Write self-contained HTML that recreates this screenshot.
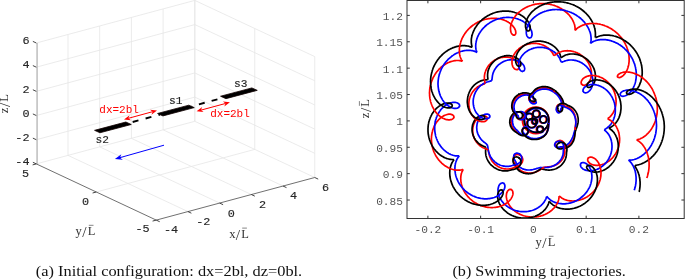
<!DOCTYPE html>
<html><head><meta charset="utf-8"><style>html,body{margin:0;padding:0;background:#fff;width:685px;height:280px;overflow:hidden}svg{display:block;will-change:transform}</style></head>
<body><svg width="685" height="280" viewBox="0 0 685 280">
<rect width="685" height="280" fill="#fff"/>
<line x1="68.00" y1="155.38" x2="68.00" y2="34.48" stroke="#e6e6e6" stroke-width="0.8" />
<line x1="99.70" y1="146.86" x2="99.70" y2="25.96" stroke="#e6e6e6" stroke-width="0.8" />
<line x1="131.40" y1="138.34" x2="131.40" y2="17.44" stroke="#e6e6e6" stroke-width="0.8" />
<line x1="163.10" y1="129.82" x2="163.10" y2="8.92" stroke="#e6e6e6" stroke-width="0.8" />
<line x1="194.80" y1="121.30" x2="194.80" y2="0.40" stroke="#e6e6e6" stroke-width="0.8" />
<line x1="36.30" y1="163.90" x2="194.80" y2="121.30" stroke="#e6e6e6" stroke-width="0.8" />
<line x1="36.30" y1="139.72" x2="194.80" y2="97.12" stroke="#e6e6e6" stroke-width="0.8" />
<line x1="36.30" y1="115.54" x2="194.80" y2="72.94" stroke="#e6e6e6" stroke-width="0.8" />
<line x1="36.30" y1="91.36" x2="194.80" y2="48.76" stroke="#e6e6e6" stroke-width="0.8" />
<line x1="36.30" y1="67.18" x2="194.80" y2="24.58" stroke="#e6e6e6" stroke-width="0.8" />
<line x1="36.30" y1="43.00" x2="194.80" y2="0.40" stroke="#e6e6e6" stroke-width="0.8" />
<line x1="314.75" y1="177.50" x2="314.75" y2="56.60" stroke="#e6e6e6" stroke-width="0.8" />
<line x1="254.78" y1="149.40" x2="254.78" y2="28.50" stroke="#e6e6e6" stroke-width="0.8" />
<line x1="194.80" y1="121.30" x2="194.80" y2="0.40" stroke="#e6e6e6" stroke-width="0.8" />
<line x1="314.75" y1="177.50" x2="194.80" y2="121.30" stroke="#e6e6e6" stroke-width="0.8" />
<line x1="314.75" y1="153.32" x2="194.80" y2="97.12" stroke="#e6e6e6" stroke-width="0.8" />
<line x1="314.75" y1="129.14" x2="194.80" y2="72.94" stroke="#e6e6e6" stroke-width="0.8" />
<line x1="314.75" y1="104.96" x2="194.80" y2="48.76" stroke="#e6e6e6" stroke-width="0.8" />
<line x1="314.75" y1="80.78" x2="194.80" y2="24.58" stroke="#e6e6e6" stroke-width="0.8" />
<line x1="314.75" y1="56.60" x2="194.80" y2="0.40" stroke="#e6e6e6" stroke-width="0.8" />
<line x1="187.95" y1="211.58" x2="68.00" y2="155.38" stroke="#e6e6e6" stroke-width="0.8" />
<line x1="219.65" y1="203.06" x2="99.70" y2="146.86" stroke="#e6e6e6" stroke-width="0.8" />
<line x1="251.35" y1="194.54" x2="131.40" y2="138.34" stroke="#e6e6e6" stroke-width="0.8" />
<line x1="283.05" y1="186.02" x2="163.10" y2="129.82" stroke="#e6e6e6" stroke-width="0.8" />
<line x1="96.28" y1="192.00" x2="254.78" y2="149.40" stroke="#e6e6e6" stroke-width="0.8" />
<line x1="37.10" y1="163.90" x2="37.10" y2="43.00" stroke="#c8c8c8" stroke-width="1.8" />
<line x1="36.30" y1="163.90" x2="156.25" y2="220.10" stroke="#606060" stroke-width="0.9" />
<line x1="156.25" y1="220.10" x2="314.75" y2="177.50" stroke="#606060" stroke-width="0.9" />
<line x1="36.30" y1="163.90" x2="32.86" y2="162.29" stroke="#303030" stroke-width="0.9" />
<line x1="36.30" y1="139.72" x2="32.86" y2="138.11" stroke="#303030" stroke-width="0.9" />
<line x1="36.30" y1="115.54" x2="32.86" y2="113.93" stroke="#303030" stroke-width="0.9" />
<line x1="36.30" y1="91.36" x2="32.86" y2="89.75" stroke="#303030" stroke-width="0.9" />
<line x1="36.30" y1="67.18" x2="32.86" y2="65.57" stroke="#303030" stroke-width="0.9" />
<line x1="36.30" y1="43.00" x2="32.86" y2="41.39" stroke="#303030" stroke-width="0.9" />
<line x1="156.25" y1="220.10" x2="152.58" y2="221.09" stroke="#303030" stroke-width="0.9" />
<line x1="96.28" y1="192.00" x2="92.61" y2="192.99" stroke="#303030" stroke-width="0.9" />
<line x1="36.30" y1="163.90" x2="32.63" y2="164.89" stroke="#303030" stroke-width="0.9" />
<line x1="156.25" y1="220.10" x2="159.69" y2="221.71" stroke="#303030" stroke-width="0.9" />
<line x1="187.95" y1="211.58" x2="191.39" y2="213.19" stroke="#303030" stroke-width="0.9" />
<line x1="219.65" y1="203.06" x2="223.09" y2="204.67" stroke="#303030" stroke-width="0.9" />
<line x1="251.35" y1="194.54" x2="254.79" y2="196.15" stroke="#303030" stroke-width="0.9" />
<line x1="283.05" y1="186.02" x2="286.49" y2="187.63" stroke="#303030" stroke-width="0.9" />
<line x1="314.75" y1="177.50" x2="318.19" y2="179.11" stroke="#303030" stroke-width="0.9" />
<text x="29.5" y="44.2" text-anchor="end" font-family="Liberation Mono" font-size="11.8" fill="#262626" stroke="#262626" stroke-width="0.15">6</text>
<text x="29.5" y="68.4" text-anchor="end" font-family="Liberation Mono" font-size="11.8" fill="#262626" stroke="#262626" stroke-width="0.15">4</text>
<text x="29.5" y="92.6" text-anchor="end" font-family="Liberation Mono" font-size="11.8" fill="#262626" stroke="#262626" stroke-width="0.15">2</text>
<text x="29.5" y="116.7" text-anchor="end" font-family="Liberation Mono" font-size="11.8" fill="#262626" stroke="#262626" stroke-width="0.15">0</text>
<text x="29.5" y="140.9" text-anchor="end" font-family="Liberation Mono" font-size="11.8" fill="#262626" stroke="#262626" stroke-width="0.15">-2</text>
<text x="29.5" y="165.1" text-anchor="end" font-family="Liberation Mono" font-size="11.8" fill="#262626" stroke="#262626" stroke-width="0.15">-4</text>
<text x="25.5" y="176.7" text-anchor="middle" font-family="Liberation Mono" font-size="11.8" fill="#262626" stroke="#262626" stroke-width="0.15">5</text>
<text x="85.5" y="205.2" text-anchor="middle" font-family="Liberation Mono" font-size="11.8" fill="#262626" stroke="#262626" stroke-width="0.15">0</text>
<text x="142.5" y="232.0" text-anchor="middle" font-family="Liberation Mono" font-size="11.8" fill="#262626" stroke="#262626" stroke-width="0.15">-5</text>
<text x="171.0" y="233.0" text-anchor="middle" font-family="Liberation Mono" font-size="11.8" fill="#262626" stroke="#262626" stroke-width="0.15">-4</text>
<text x="203.3" y="225.4" text-anchor="middle" font-family="Liberation Mono" font-size="11.8" fill="#262626" stroke="#262626" stroke-width="0.15">-2</text>
<text x="231.2" y="216.6" text-anchor="middle" font-family="Liberation Mono" font-size="11.8" fill="#262626" stroke="#262626" stroke-width="0.15">0</text>
<text x="262.6" y="208.3" text-anchor="middle" font-family="Liberation Mono" font-size="11.8" fill="#262626" stroke="#262626" stroke-width="0.15">2</text>
<text x="293.6" y="199.3" text-anchor="middle" font-family="Liberation Mono" font-size="11.8" fill="#262626" stroke="#262626" stroke-width="0.15">4</text>
<text x="325.6" y="190.6" text-anchor="middle" font-family="Liberation Mono" font-size="11.8" fill="#262626" stroke="#262626" stroke-width="0.15">6</text>
<g transform="translate(75.6 234.9)"><text y="0" font-family="Liberation Serif" font-size="12.5" fill="#333"><tspan x="0">y</tspan><tspan x="6.63" y="1.8" font-size="15.5">/</tspan><tspan x="12.26" y="0">L</tspan></text><line x1="13.2" y1="-9.6" x2="17.9" y2="-9.6" stroke="#333" stroke-width="0.6"/></g>
<g transform="translate(229.3 237.7)"><text y="0" font-family="Liberation Serif" font-size="12.5" fill="#333"><tspan x="0">x</tspan><tspan x="6.50" y="1.8" font-size="15.5">/</tspan><tspan x="12.01" y="0">L</tspan></text><line x1="12.9" y1="-9.6" x2="17.6" y2="-9.6" stroke="#333" stroke-width="0.6"/></g>
<g transform="translate(8.4 113.3) rotate(-90)"><text y="0" font-family="Liberation Serif" font-size="12.5" fill="#333"><tspan x="0">z</tspan><tspan x="6.29" y="1.8" font-size="15.5">/</tspan><tspan x="11.63" y="0">L</tspan></text><line x1="12.5" y1="-9.6" x2="17.2" y2="-9.6" stroke="#333" stroke-width="0.6"/></g>
<polygon points="157.55,113.48 188.85,105.17 194.25,107.62 162.95,115.92" fill="#000" stroke="#100000" stroke-width="0.8" stroke-linejoin="round"/>
<polygon points="94.55,130.33 125.85,122.03 131.25,124.47 99.95,132.78" fill="#000" stroke="#100000" stroke-width="0.8" stroke-linejoin="round"/>
<polygon points="220.55,96.23 251.85,87.92 257.25,90.37 225.95,98.67" fill="#000" stroke="#100000" stroke-width="0.8" stroke-linejoin="round"/>
<line x1="128.8" y1="123.0" x2="160.0" y2="114.6" stroke="#000" stroke-width="1.9" stroke-dasharray="6,7.4" stroke-dashoffset="9.4"/>
<line x1="191.8" y1="106.3" x2="223.0" y2="97.8" stroke="#000" stroke-width="1.9" stroke-dasharray="6,7.2" stroke-dashoffset="5.85"/>
<line x1="128.39" y1="118.30" x2="152.61" y2="111.70" stroke="#ff0000" stroke-width="1.0"/>
<polygon points="157.00,110.50 151.41,114.72 152.61,111.70 150.04,109.70" fill="#ff0000"/>
<polygon points="124.00,119.50 130.96,120.30 128.39,118.30 129.59,115.28" fill="#ff0000"/>
<line x1="200.99" y1="110.11" x2="225.51" y2="103.49" stroke="#ff0000" stroke-width="1.0"/>
<polygon points="229.90,102.30 224.30,106.51 225.51,103.49 222.95,101.49" fill="#ff0000"/>
<polygon points="196.60,111.30 203.55,112.11 200.99,110.11 202.20,107.09" fill="#ff0000"/>
<line x1="164.00" y1="145.20" x2="119.95" y2="157.67" stroke="#0000ff" stroke-width="1.0"/>
<polygon points="114.90,159.10 121.35,154.36 119.95,157.67 122.88,159.75" fill="#0000ff"/>
<text x="119.1" y="113.2" text-anchor="middle" font-family="Liberation Mono" font-size="11" fill="#ff0000">dx=2bl</text>
<text x="230.0" y="117.0" text-anchor="middle" font-family="Liberation Mono" font-size="11" fill="#ff0000">dx=2bl</text>
<text x="102.3" y="142.7" text-anchor="middle" font-family="Liberation Mono" font-size="11.2" fill="#262626" stroke="#262626" stroke-width="0.15">s2</text>
<text x="175.7" y="103.9" text-anchor="middle" font-family="Liberation Mono" font-size="11.2" fill="#262626" stroke="#262626" stroke-width="0.15">s1</text>
<text x="240.8" y="86.7" text-anchor="middle" font-family="Liberation Mono" font-size="11.2" fill="#262626" stroke="#262626" stroke-width="0.15">s3</text>
<defs><clipPath id="rclip"><rect x="407" y="0" width="278" height="218.5"/></clipPath></defs><g clip-path="url(#rclip)">
<circle cx="535.7" cy="120.3" r="13.3" fill="none" stroke="#ff0000" stroke-width="1.7"/><ellipse cx="535.7" cy="114.0" rx="3.5" ry="3.6" fill="none" stroke="#ff0000" stroke-width="1.6"/><ellipse cx="542.7" cy="119.6" rx="3.5" ry="3.6" fill="none" stroke="#ff0000" stroke-width="1.6"/><ellipse cx="539.5" cy="129.5" rx="3.2" ry="3.1" fill="none" stroke="#ff0000" stroke-width="1.6"/><ellipse cx="528.7" cy="116.7" rx="3.5" ry="3.2" fill="none" stroke="#ff0000" stroke-width="1.6"/><ellipse cx="531.1" cy="123.3" rx="4.5" ry="4.5" fill="none" stroke="#ff0000" stroke-width="1.6"/><ellipse cx="534.1" cy="121.6" rx="2.6" ry="2.6" fill="none" stroke="#ff0000" stroke-width="1.6"/>
<circle cx="536.7" cy="120.4" r="12.0" fill="none" stroke="#0000ff" stroke-width="1.7"/><ellipse cx="536.7" cy="114.1" rx="3.5" ry="3.6" fill="none" stroke="#0000ff" stroke-width="1.6"/><ellipse cx="543.7" cy="119.7" rx="3.5" ry="3.6" fill="none" stroke="#0000ff" stroke-width="1.6"/><ellipse cx="540.5" cy="129.6" rx="3.2" ry="3.1" fill="none" stroke="#0000ff" stroke-width="1.6"/><ellipse cx="529.7" cy="116.8" rx="3.5" ry="3.2" fill="none" stroke="#0000ff" stroke-width="1.6"/><ellipse cx="532.1" cy="123.4" rx="4.5" ry="4.5" fill="none" stroke="#0000ff" stroke-width="1.6"/><ellipse cx="535.1" cy="121.7" rx="2.6" ry="2.6" fill="none" stroke="#0000ff" stroke-width="1.6"/>
<circle cx="536.4" cy="120.0" r="12.4" fill="none" stroke="#000" stroke-width="1.7"/><ellipse cx="536.4" cy="113.7" rx="3.5" ry="3.6" fill="none" stroke="#000" stroke-width="1.6"/><ellipse cx="543.4" cy="119.3" rx="3.5" ry="3.6" fill="none" stroke="#000" stroke-width="1.6"/><ellipse cx="540.2" cy="129.2" rx="3.2" ry="3.1" fill="none" stroke="#000" stroke-width="1.6"/><ellipse cx="529.4" cy="116.4" rx="3.5" ry="3.2" fill="none" stroke="#000" stroke-width="1.6"/><ellipse cx="531.8" cy="123.0" rx="4.5" ry="4.5" fill="none" stroke="#000" stroke-width="1.6"/><ellipse cx="534.8" cy="121.3" rx="2.6" ry="2.6" fill="none" stroke="#000" stroke-width="1.6"/>
<path d="M548.6,123.6l-0.1 .8 0 .8 -.1 .8 0 .8 -.1 .8 -.1 .8 -.2 .8 -.2 .7 -.2 .8 -.3 .7 -.3 .8 -.4 .7 -.4 .7 -.4 .6 -.6 .6 -.5 .6 -.6 .5 -.7 .5 -.6 .4 -.7 .4 -.7 .4 -.8 .3 -.7 .3 -.8 .3 -.7 .2 -.8 .2 -.8 .1 -.8 .1 -.8 0 -.8 0 -.8 0 -.8 0 -.8 -.1 -.8 -.2 -.7 -.2 -.8 -.3 -.7 -.3 -.7 -.3 -.7 -.4 -.7 -.4 -.7 -.5 -.6 -.5 -.6 -.5 -.6 -.6 -.5 -.6 -.5 -.6 -.4 -.7 -.4 -.7 -.3 -.7 0 -.8 .1 -.8 .2 -.7 .4 -.7 .7 -.5 .7 -.4 .8 -.1 .8 -.1 .7 .3 .6 .6 .5 .6 .3 .7 .2 .8 0 .8 -.2 .8 -.2 .7 -.5 .7 -.5 .6 -.6 .5 -.7 .4 -.8 .2 -.8 .2 -.8 0 -.7 -.1 -.8 -.2 -.8 -.2 -.7 -.4 -.7 -.4 -.6 -.4 -.7 -.5 -.6 -.5 -.6 -.5 -.6 -.6 -.6 -.5 -.2 -.1 -.4 -.3 -.6 -.5 -.5 -.6 -.5 -.6 -.5 -.6 -.4 -.7 -.4 -.7 -.4 -.7 -.2 -.8 -.3 -.7 -.1 -.8 -.2 -.8 0 -.8" fill="none" stroke="#ff0000" stroke-width="1.7" stroke-linejoin="round" stroke-linecap="butt"/>
<path d="M548.9,123.0l-0.1 .8 0 .8 -.1 .8 0 .8 -.1 .8 -.1 .8 -.1 .7 -.2 .8 -.3 .8 -.3 .7 -.3 .7 -.4 .7 -.4 .7 -.4 .7 -.5 .6 -.6 .6 -.6 .5 -.6 .5 -.7 .4 -.7 .4 -.7 .4 -.7 .3 -.7 .3 -.8 .2 -.8 .3 -.7 .1 -.8 .2 -.8 .1 -.8 0 -.8 0 -.8 0 -.8 0 -.8 -.1 -.8 -.1 -.7 -.2 -.8 -.3 -.7 -.3 -.7 -.4 -.7 -.4 -.7 -.4 -.7 -.4 -.6 -.5 -.6 -.5 -.6 -.6 -.5 -.6 -.5 -.6 -.5 -.6 -.3 -.7 -.3 -.8 -.1 -.7 0 -.8 .3 -.8 .3 -.7 .6 -.5 .7 -.4 .8 -.2 .8 -.1 .7 .2 .7 .5 .5 .6 .4 .7 .2 .8 0 .8 -.1 .8 -.3 .7 -.3 .7 -.5 .6 -.6 .5 -.7 .5 -.7 .3 -.8 .2 -.8 0 -.8 0 -.8 -.1 -.7 -.3 -.8 -.3 -.6 -.5 -.6 -.5 -.6 -.6 -.5 -.6 -.5 -.6 -.6 -.6 -.5 -.6 -.4 -.3 -.1 -.1 -.6 -.5 -.5 -.6 -.5 -.6 -.5 -.7 -.4 -.7 -.4 -.7 -.3 -.7 -.2 -.8 -.2 -.7 -.2 -.8 -.1 -.8 0 -.8" fill="none" stroke="#0000ff" stroke-width="1.7" stroke-linejoin="round" stroke-linecap="butt"/>
<path d="M548.4,124.0l-0.1 .8 0 .8 -.1 .8 0 .8 -.1 .8 -.1 .8 -.2 .8 -.2 .7 -.2 .8 -.3 .7 -.3 .8 -.4 .7 -.4 .7 -.4 .6 -.6 .6 -.5 .6 -.6 .5 -.7 .5 -.6 .4 -.7 .4 -.7 .4 -.8 .3 -.7 .3 -.8 .3 -.7 .2 -.8 .2 -.8 .1 -.8 .1 -.8 0 -.8 0 -.8 0 -.8 0 -.8 -.1 -.8 -.2 -.7 -.2 -.8 -.3 -.7 -.3 -.7 -.3 -.7 -.4 -.7 -.4 -.7 -.5 -.6 -.5 -.6 -.5 -.6 -.6 -.5 -.6 -.5 -.6 -.4 -.7 -.4 -.7 -.3 -.7 0 -.8 .1 -.8 .2 -.8 .4 -.6 .7 -.5 .7 -.4 .8 -.1 .8 -.1 .7 .3 .6 .6 .5 .6 .3 .7 .2 .8 0 .8 -.2 .8 -.2 .7 -.5 .7 -.5 .6 -.6 .5 -.7 .4 -.8 .2 -.8 .2 -.8 0 -.7 -.1 -.8 -.2 -.8 -.2 -.7 -.4 -.7 -.3 -.7 -.5 -.6 -.4 -.7 -.5 -.7 -.4 -.6 -.5 -.7 -.4 -.6 -.5 -.7 -.5 .2 .2 -.5 -.5 -.6 -.5 -.5 -.6 -.5 -.7 -.5 -.6 -.4 -.7 -.3 -.7 -.4 -.7 -.2 -.8 -.2 -.8 -.2 -.8 -.1 -.7 0 -.8" fill="none" stroke="#000" stroke-width="1.7" stroke-linejoin="round" stroke-linecap="butt"/>
<path d="M511.2,123.3l-0.1 -.8 0 -.8 0 -.8 .1 -.8 .1 -.8 .2 -.8 .3 -.7 .3 -.7 .4 -.7 .5 -.7 .4 -.6 .6 -.6 .6 -.6 .6 -.4 .7 -.5 .7 -.3 .8 -.3 .7 -.2 .8 -.1 .8 0 .8 .1 .8 .3 .7 .3 .6 .5 .5 .6 .4 .7 .1 .8 -.1 .4 .4 -.7 .4 .5 -.2 .8 -.3 .7 -.5 .7 -.5 .6" fill="none" stroke="#ff0000" stroke-width="1.7" stroke-linejoin="round" stroke-linecap="butt"/>
<path d="M512.4,122.1l0 -.7 0 -.8 .1 -.8 .1 -.8 .2 -.8 .3 -.8 .3 -.7 .3 -.7 .5 -.7 .5 -.6 .5 -.6 .6 -.6 .6 -.5 .7 -.4 .7 -.4 .7 -.2 .8 -.2 .8 -.2 .8 0 .8 .1 .7 .2 .8 .3 .7 .4 .5 .6 .5 .6 .2 .8 .1 .8 -.1 .3 .5 -.6 .2 .7 -.3 .8 -.3 .7 -.5 .7 -.5 .5" fill="none" stroke="#0000ff" stroke-width="1.7" stroke-linejoin="round" stroke-linecap="butt"/>
<path d="M509.8,123.0l0 -.8 0 -.8 0 -.8 .1 -.7 .2 -.8 .2 -.8 .2 -.7 .4 -.8 .4 -.7 .4 -.6 .5 -.7 .5 -.6 .6 -.5 .6 -.5 .7 -.4 .7 -.4 .7 -.3 .8 -.2 .8 -.1 .8 0 .8 0 .8 .2 .7 .3 .7 .5 .5 .5 .4 .7 .2 .8 -.1 .5 .3 -.7 .4 .3 -.1 .8 -.4 .7 -.4 .7 -.6 .5" fill="none" stroke="#000" stroke-width="1.7" stroke-linejoin="round" stroke-linecap="butt"/>
<path d="M523.2,117.9l-0.5 .6 -.7 .5 -.7 .4 -.8 .2 -.8 0 -.7 -.2 -.7 -.4 -.5 -.6 -.4 -.7 -.3 -.8 -.2 -.8 -.2 -.7 -.7 -.4 -.5 -.6 -.6 -.6 -.5 -.6 -.4 -.7 -.4 -.7 -.3 -.7 -.3 -.8 -.2 -.7 -.2 -.8 -.1 -.8 -.1 -.8 0 -.8 .1 -.8 .1 -.8 .2 -.8 .2 -.7 .2 -.8 .3 -.7 .4 -.8 .4 -.7 .4 -.6 .5 -.7 .5 -.6 .5 -.6 .6 -.5 .6 -.5 .7 -.5 .6 -.4 .7 -.4" fill="none" stroke="#ff0000" stroke-width="1.7" stroke-linejoin="round" stroke-linecap="butt"/>
<path d="M524.6,118.1l-0.6 .5 -.6 .5 -.7 .4 -.8 .2 -.8 0 -.7 -.2 -.7 -.4 -.6 -.5 -.4 -.7 -.2 -.8 -.2 -.7 -.2 -.8 -.6 -.5 -.6 -.5 -.5 -.6 -.5 -.6 -.4 -.6 -.4 -.7 -.3 -.8 -.3 -.7 -.2 -.8 -.2 -.7 -.1 -.8 0 -.8 0 -.8 0 -.8 .2 -.8 .1 -.8 .3 -.7 .2 -.8 .3 -.7 .4 -.7 .4 -.7 .5 -.6 .4 -.6 .6 -.6 .5 -.6 .6 -.5 .7 -.5 .6 -.4 .7 -.4 .7 -.4" fill="none" stroke="#0000ff" stroke-width="1.7" stroke-linejoin="round" stroke-linecap="butt"/>
<path d="M522.1,117.2l-0.6 .6 -.6 .4 -.8 .4 -.7 .1 -.8 0 -.8 -.2 -.6 -.5 -.5 -.6 -.4 -.7 -.2 -.7 -.1 -.8 -.2 -.7 -.6 -.6 -.6 -.5 -.5 -.6 -.4 -.7 -.5 -.6 -.3 -.7 -.3 -.8 -.3 -.7 -.2 -.8 -.2 -.7 -.1 -.8 0 -.8 0 -.8 .1 -.8 .1 -.8 .1 -.7 .2 -.8 .3 -.7 .2 -.8 .4 -.7 .4 -.7 .4 -.7 .4 -.6 .5 -.6 .5 -.6 .6 -.6 .6 -.5 .6 -.5 .7 -.4 .6 -.4 .7 -.4" fill="none" stroke="#000" stroke-width="1.7" stroke-linejoin="round" stroke-linecap="butt"/>
<path d="M518.8,95.9l0.6 -.4 .7 -.3 .8 -.3 .7 -.3 .8 -.2 .7 -.1 .8 -.1 .8 -.1 .7 0 .8 .1 .8 .1 .7 .1 .8 .2 .7 .3 .7 .3 .7 .4 .7 .4 .6 .5 .5 .6 .5 .6 .3 .7 .3 .7 .2 .6 .8 .3 .6 .4 .4 .6 -.2 .7 -.6 .5 -.7 .2 -.8 .1 -.8 -.1 -.7 -.2" fill="none" stroke="#ff0000" stroke-width="1.7" stroke-linejoin="round" stroke-linecap="butt"/>
<path d="M520.5,96.5l0.7 -.4 .8 -.3 .7 -.3 .8 -.2 .7 -.1 .8 -.1 .8 -.1 .8 0 .8 .1 .8 .1 .8 .1 .7 .3 .8 .3 .7 .3 .7 .4 .6 .5 .6 .5 .5 .6 .4 .7 .4 .7 .2 .8 0 .7 .7 .2 .7 .5 .3 .7 -.3 .7 -.7 .4 -.8 .2 -.7 0 -.8 -.1 -.8 -.3" fill="none" stroke="#0000ff" stroke-width="1.7" stroke-linejoin="round" stroke-linecap="butt"/>
<path d="M518.5,94.5l0.7 -.4 .8 -.3 .7 -.3 .8 -.2 .7 -.2 .8 -.2 .8 -.1 .8 0 .8 0 .8 0 .8 .2 .7 .1 .8 .2 .7 .3 .8 .3 .6 .4 .7 .5 .6 .5 .6 .5 .5 .7 .4 .6 .3 .8 .2 .6 .8 .3 .6 .4 .4 .7 -.1 .7 -.7 .5 -.7 .2 -.8 .1 -.8 -.1 -.8 -.3" fill="none" stroke="#000" stroke-width="1.7" stroke-linejoin="round" stroke-linecap="butt"/>
<path d="M532.3,102.4l-0.7 -.2 -.7 -.3 -.7 -.5 -.5 -.6 -.5 -.6 -.2 -.8 -.1 -.7 .1 -.8 .2 -.8 .4 -.7 .5 -.6 .5 -.6 .6 -.5 .7 -.4 .5 -.5 .5 -.7 .4 -.6 .6 -.6 .5 -.6 .6 -.5 .6 -.5 .7 -.4 .7 -.4 .7 -.4 .7 -.3 .8 -.3 .7 -.2 .8 -.2 .8 -.1 .7 -.1 .8 -.1 .8 0 .8 .1 .8 0 .8 .1 .8 .2 .7 .1 .8 .3 .8 .2 .7 .3 .7 .3 .7 .3 .7 .4 .7 .4 .7 .4 .6 .4" fill="none" stroke="#ff0000" stroke-width="1.7" stroke-linejoin="round" stroke-linecap="butt"/>
<path d="M532.9,103.7l-0.8 -.3 -.7 -.3 -.6 -.5 -.5 -.6 -.5 -.6 -.2 -.8 -.1 -.7 0 -.8 .3 -.8 .3 -.7 .5 -.6 .5 -.6 .6 -.5 .7 -.4 .6 -.4 .4 -.7 .5 -.7 .5 -.5 .5 -.6 .6 -.5 .6 -.5 .7 -.5 .6 -.4 .7 -.3 .8 -.3 .7 -.3 .8 -.2 .7 -.2 .8 -.2 .8 -.1 .7 0 .8 0 .8 0 .8 0 .8 .1 .7 .2 .8 .1 .8 .2 .7 .3 .7 .3 .8 .3 .7 .3 .7 .4 .6 .4 .7 .4 .6 .4 .7 .5" fill="none" stroke="#0000ff" stroke-width="1.7" stroke-linejoin="round" stroke-linecap="butt"/>
<path d="M532.5,101.2l-0.8 -.2 -.7 -.3 -.6 -.5 -.6 -.6 -.4 -.7 -.2 -.7 -.1 -.8 .1 -.8 .2 -.8 .4 -.7 .4 -.6 .6 -.6 .6 -.5 .6 -.5 .7 -.4 .4 -.7 .5 -.6 .5 -.6 .6 -.6 .6 -.5 .6 -.5 .7 -.4 .7 -.4 .7 -.4 .7 -.3 .8 -.2 .7 -.3 .8 -.1 .8 -.2 .8 -.1 .8 0 .8 0 .8 0 .8 .1 .7 .1 .8 .1 .8 .2 .8 .2 .7 .3 .8 .3 .7 .3 .7 .4 .7 .4 .7 .4 .6 .4 .7 .5 .6 .4 .6 .6" fill="none" stroke="#000" stroke-width="1.7" stroke-linejoin="round" stroke-linecap="butt"/>
<path d="M553.6,91.0l0.7 .4 .6 .5 .6 .5 .6 .5 .6 .5 .6 .5 .5 .6 .6 .6 .5 .6 .5 .6 .4 .6 .5 .7 .4 .7 .4 .6 .3 .8 .3 .7 .3 .7 .2 .8 .1 .8 .1 .7 .1 .8 -.1 .8 -.1 .8 -.2 .8 -.2 .7 -.2 .7 0 .8 -.1 .8 -.2 .8 -.4 .7 -.5 .5 -.8 .3 -.7 0 -.8 -.3 -.6 -.5 -.4 -.6 -.4 -.7 -.2 -.8" fill="none" stroke="#ff0000" stroke-width="1.7" stroke-linejoin="round" stroke-linecap="butt"/>
<path d="M554.5,92.6l0.7 .5 .6 .5 .5 .5 .6 .6 .5 .5 .5 .6 .5 .6 .5 .7 .4 .6 .5 .7 .3 .7 .4 .7 .3 .7 .3 .7 .2 .8 .2 .7 .2 .8 .1 .8 0 .7 0 .8 -.1 .8 -.2 .8 -.2 .7 -.4 .7 -.3 .7 0 .8 -.1 .8 -.3 .7 -.4 .6 -.7 .4 -.8 0 -.7 -.4 -.5 -.5 -.4 -.7 -.2 -.8 -.1 -.7" fill="none" stroke="#0000ff" stroke-width="1.7" stroke-linejoin="round" stroke-linecap="butt"/>
<path d="M555.2,90.8l0.7 .5 .5 .6 .6 .5 .6 .5 .5 .6 .6 .6 .5 .6 .5 .6 .5 .6 .5 .6 .4 .6 .4 .7 .4 .7 .4 .7 .3 .7 .3 .7 .3 .8 .1 .7 .2 .8 .1 .8 0 .8 -.1 .8 -.1 .7 -.3 .8 -.3 .7 -.2 .7 0 .8 -.2 .8 -.3 .7 -.4 .7 -.6 .4 -.8 .2 -.8 -.2 -.6 -.5 -.5 -.6 -.4 -.7 -.2 -.7 -.1 -.8" fill="none" stroke="#000" stroke-width="1.7" stroke-linejoin="round" stroke-linecap="butt"/>
<path d="M556.8,109.7l-0.2 -.7 0 -.8 0 -.8 .3 -.8 .3 -.7 .5 -.6 .7 -.5 .7 -.3 .7 -.2 .8 0 .8 .1 .8 .2 .7 .2 .8 .4 .6 .4 .7 .4 .8 .2 .7 .2 .8 .2 .7 .4 .7 .3 .7 .5 .6 .4 .6 .5 .6 .5 .6 .6 .5 .6 .5 .6 .4 .7 .4 .7 .4 .7 .3 .7 .4 .7 .2 .8 .2 .7 .2 .8 .2 .8 .1 .7 .1 .8 .1 .8 0 .8 0 .8 0 .8 -.1 .8 0 .8 -.1 .8 -.1 .7 -.1 .8 -.1 .8 0 .8" fill="none" stroke="#ff0000" stroke-width="1.7" stroke-linejoin="round" stroke-linecap="butt"/>
<path d="M556.5,110.4l-0.2 -.8 .1 -.8 .1 -.8 .3 -.7 .5 -.6 .6 -.6 .6 -.4 .8 -.3 .7 -.1 .8 0 .8 .2 .8 .2 .7 .3 .7 .3 .7 .5 .6 .4 .7 .3 .8 .2 .7 .3 .7 .4 .7 .4 .7 .4 .6 .5 .6 .5 .6 .5 .5 .6 .6 .6 .4 .6 .5 .7 .4 .6 .4 .7 .3 .8 .3 .7 .3 .7 .2 .8 .2 .7 .2 .8 .1 .8 .1 .8 .1 .8 .1 .7 0 .8 -.1 .8 0 .8 -.1 .8 -.1 .8 -.1 .8 -.1 .7 -.2 .8 -.2 .8 -.2 .8 -.2 .7" fill="none" stroke="#0000ff" stroke-width="1.7" stroke-linejoin="round" stroke-linecap="butt"/>
<path d="M557.8,109.1l-0.1 -.8 0 -.8 .1 -.8 .3 -.7 .3 -.7 .6 -.6 .6 -.5 .7 -.4 .7 -.3 .8 -.1 .8 -.1 .8 .1 .8 .2 .7 .2 .8 .3 .7 .4 .7 .4 .6 .5 .8 .2 .7 .3 .7 .3 .7 .4 .7 .4 .7 .4 .6 .5 .6 .5 .6 .6 .5 .6 .5 .6 .5 .6 .4 .7 .5 .7 .3 .7 .4 .7 .3 .7 .2 .8 .2 .7 .2 .8 .2 .8 .1 .8 .1 .8 0 .8 0 .8 0 .8 -.1 .8 -.1 .7 -.2 .8 -.2 .8 -.2 .8 -.2 .7 -.2 .8 -.3 .7 -.3 .8 -.3 .7 -.3 .8 -.2 .7" fill="none" stroke="#000" stroke-width="1.7" stroke-linejoin="round" stroke-linecap="butt"/>
<path d="M575.3,127.2l-0.1 .8 0 .8 -.1 .8 0 .8 -.1 .8 0 .8 -.1 .8 -.1 .8 -.1 .8 -.1 .8 -.1 .7 -.2 .8 -.2 .8 -.3 .7 -.3 .8 -.3 .7 -.4 .7 -.3 .7 -.5 .7 -.4 .6 -.5 .6 -.6 .6 -.5 .6 -.6 .5 -.6 .5 -.7 .5 -.7 .4 -.7 .3 -.7 .3 -.8 .3 -.8 .2 -.8 .1 -.7 .1 -.8 0 -.8 .3 -.8 .2 -.7 .1 -.8 0 -.8 -.1 -.8 -.2 -.7 -.3 -.6 -.5 -.5 -.6 -.3 -.8 -.1 -.8 .1 -.7 .2 -.8 .4 -.7 .5 -.6 .6 -.5" fill="none" stroke="#ff0000" stroke-width="1.7" stroke-linejoin="round" stroke-linecap="butt"/>
<path d="M574.8,130.1l-0.2 .8 -.2 .7 -.2 .8 -.3 .8 -.2 .7 -.2 .8 -.3 .8 -.3 .7 -.2 .8 -.3 .7 -.4 .7 -.3 .7 -.4 .8 -.4 .6 -.4 .7 -.5 .7 -.5 .6 -.5 .6 -.6 .5 -.6 .6 -.6 .5 -.7 .4 -.7 .4 -.7 .4 -.7 .3 -.8 .3 -.8 .2 -.7 .1 -.8 0 -.8 0 -.8 .2 -.8 .2 -.8 .1 -.8 0 -.8 -.1 -.7 -.3 -.6 -.5 -.4 -.7 -.2 -.8 .2 -.8 .3 -.7 .4 -.7 .6 -.5 .7 -.4" fill="none" stroke="#0000ff" stroke-width="1.7" stroke-linejoin="round" stroke-linecap="butt"/>
<path d="M575.7,130.0l-0.2 .8 -.2 .8 -.1 .7 -.1 .8 -.1 .8 -.1 .8 -.1 .8 -.1 .7 -.1 .8 -.2 .8 -.1 .7 -.3 .8 -.2 .8 -.3 .7 -.3 .7 -.4 .7 -.4 .7 -.4 .6 -.5 .7 -.5 .6 -.5 .5 -.6 .5 -.6 .5 -.7 .5 -.7 .4 -.7 .3 -.7 .3 -.7 .3 -.8 .1 -.8 .1 -.8 .1 -.7 .1 -.8 .2 -.8 .2 -.7 .1 -.8 -.1 -.8 -.1 -.7 -.3 -.7 -.5 -.4 -.6 -.3 -.8 0 -.8 .2 -.7 .4 -.7 .5 -.6 .6 -.5 .7 -.5" fill="none" stroke="#000" stroke-width="1.7" stroke-linejoin="round" stroke-linecap="butt"/>
<path d="M556.4,142.0l0.6 -.6 .7 -.4 .7 -.3 .8 -.2 .8 -.1 .8 .1 .7 .2 .7 .4 .7 .5 .5 .5 .5 .7 .3 .7 .3 .8 .2 .7 .1 .8 0 .8 0 .8 -.1 .8 -.1 .8 .1 .8 .1 .8 0 .8 0 .8 -.1 .8 -.1 .8 -.2 .7 -.2 .8 -.2 .8 -.3 .7 -.4 .7 -.3 .7 -.5 .7 -.4 .7 -.5 .6 -.5 .7 -.5 .5 -.6 .6 -.6 .5 -.6 .6 -.6 .4 -.7 .5 -.6 .4 -.7 .4 -.8 .3 -.7 .4 -.7 .3 -.8 .2 -.8 .2 -.7 .2 -.8 .2 -.8 .1 -.8 .1 -.8 .1 -.8 0 -.8 .1 -.8 .1 -.8 .1 -.8 .1 -.7 .2" fill="none" stroke="#ff0000" stroke-width="1.7" stroke-linejoin="round" stroke-linecap="butt"/>
<path d="M556.1,142.2l0.7 -.4 .7 -.3 .8 -.2 .8 -.1 .8 .1 .7 .2 .7 .4 .7 .5 .5 .6 .4 .7 .3 .7 .3 .7 .1 .8 .1 .8 0 .8 0 .8 -.1 .8 -.2 .8 -.1 .7 0 .8 0 .8 -.1 .8 -.1 .8 -.1 .8 -.2 .8 -.3 .7 -.3 .8 -.3 .7 -.3 .7 -.4 .7 -.4 .7 -.5 .6 -.5 .6 -.5 .6 -.6 .6 -.5 .6 -.6 .5 -.6 .5 -.7 .5 -.6 .4 -.7 .4 -.7 .4 -.7 .3 -.8 .4 -.7 .2 -.7 .3 -.8 .2 -.8 .2 -.8 .2 -.7 .1 -.8 .1 -.8 .1 -.8 0 -.8 0 -.8 .1 -.8 0 -.8 0 -.8 0 -.8 0 -.8 0" fill="none" stroke="#0000ff" stroke-width="1.7" stroke-linejoin="round" stroke-linecap="butt"/>
<path d="M558.3,143.3l0.7 -.4 .7 -.3 .8 -.2 .8 -.1 .7 0 .8 .2 .7 .3 .7 .4 .6 .5 .6 .6 .4 .6 .4 .7 .2 .8 .3 .7 .1 .8 .1 .8 0 .8 0 .8 -.1 .8 -.1 .7 -.2 .8 0 .8 -.1 .8 0 .8 -.1 .7 -.2 .8 -.1 .8 -.3 .7 -.2 .8 -.3 .7 -.3 .7 -.4 .7 -.4 .7 -.4 .7 -.5 .6 -.5 .6 -.5 .6 -.5 .6 -.6 .6 -.6 .5 -.6 .5 -.6 .5 -.7 .4 -.6 .4 -.7 .4 -.7 .4 -.7 .3 -.8 .3 -.7 .2 -.8 .3 -.7 .1 -.8 .2 -.8 .1 -.8 .1 -.8 .1 -.7 0 -.8 0 -.8 -.1 -.8 -.1 -.8 -.1 -.8 -.1 -.7 -.2 -.8 -.1 -.8 -.2 -.8 -.1 -.7 0" fill="none" stroke="#000" stroke-width="1.7" stroke-linejoin="round" stroke-linecap="butt"/>
<path d="M544.2,167.4l-0.7 .3 -.7 .3 -.7 .4 -.7 .5 -.6 .4 -.7 .4 -.7 .5 -.6 .4 -.7 .3 -.7 .4 -.8 .3 -.7 .3 -.8 .3 -.7 .2 -.8 .2 -.8 .2 -.7 .1 -.8 .1 -.8 0 -.8 .1 -.8 0 -.8 -.1 -.8 -.1 -.8 -.1 -.7 -.2 -.8 -.2 -.8 -.2 -.7 -.3 -.7 -.3 -.8 -.4 -.6 -.3 -.7 -.5 -.7 -.4 -.6 -.5 -.6 -.5 -.6 -.6 -.5 -.6 -.5 -.6 -.4 -.6 -.4 -.7 -.4 -.7 -.3 -.7 -.5 -.7 -.5 -.6 -.4 -.7 -.3 -.7 -.3 -.8 -.2 -.7 -.1 -.8 -.1 -.8 .1 -.8 .2 -.8 .3 -.7 .5 -.6 .6 -.6 .7 -.4 .7 -.2 .8 -.1 .8 0 .8 .1 .7 .3 .7 .3" fill="none" stroke="#ff0000" stroke-width="1.7" stroke-linejoin="round" stroke-linecap="butt"/>
<path d="M540.9,167.6l-0.8 .1 -.8 .1 -.8 .2 -.8 .2 -.7 .2 -.8 .3 -.7 .2 -.8 .2 -.8 .2 -.7 .2 -.8 .2 -.8 .1 -.8 .1 -.8 .1 -.8 0 -.8 0 -.8 0 -.8 -.1 -.8 -.1 -.7 -.2 -.8 -.2 -.8 -.2 -.7 -.3 -.7 -.3 -.8 -.4 -.6 -.4 -.7 -.4 -.7 -.5 -.6 -.5 -.5 -.6 -.6 -.5 -.5 -.7 -.5 -.6 -.4 -.7 -.3 -.7 -.3 -.7 -.4 -.7 -.4 -.7 -.4 -.7 -.4 -.7 -.2 -.8 -.2 -.7 -.1 -.8 .1 -.8 .1 -.8 .4 -.7 .5 -.6 .7 -.4 .8 -.3 .8 0 .7 .1 .8 .2 .7 .3 .7 .5" fill="none" stroke="#0000ff" stroke-width="1.7" stroke-linejoin="round" stroke-linecap="butt"/>
<path d="M541.5,169.0l-0.7 .1 -.8 .3 -.7 .4 -.6 .4 -.7 .4 -.7 .5 -.7 .4 -.6 .3 -.8 .4 -.7 .3 -.7 .3 -.8 .2 -.7 .3 -.8 .1 -.8 .2 -.8 .1 -.8 0 -.8 .1 -.7 -.1 -.8 0 -.8 -.1 -.8 -.1 -.8 -.2 -.7 -.2 -.8 -.3 -.7 -.3 -.7 -.3 -.7 -.4 -.7 -.4 -.7 -.4 -.6 -.5 -.6 -.5 -.6 -.6 -.5 -.6 -.5 -.6 -.4 -.6 -.4 -.7 -.4 -.7 -.4 -.7 -.4 -.6 -.5 -.7 -.4 -.7 -.3 -.7 -.2 -.8 -.2 -.8 0 -.7 0 -.8 .3 -.8 .3 -.7 .6 -.6 .6 -.4 .8 -.2 .8 -.1 .8 .1 .7 .2 .7 .4 .6 .5" fill="none" stroke="#000" stroke-width="1.7" stroke-linejoin="round" stroke-linecap="butt"/>
<path d="M519.3,154.8l0.7 .3 .7 .5 .6 .5 .5 .6 .4 .7 .3 .8 .2 .7 .1 .8 -.1 .8 -.2 .8 -.2 .8 -.4 .7 -.5 .6 -.5 .6 -.6 .6 -.6 .5 -.7 .4 -.7 .4 -.7 .3 -.7 .3 -.8 .3 -.7 .2 -.8 .3 -.7 .3 -.7 .3 -.8 .3 -.7 .2 -.8 .2 -.8 .2 -.8 .1 -.8 .1 -.8 0 -.8 0 -.8 0 -.8 -.1 -.8 -.1 -.8 -.1 -.7 -.2 -.8 -.2 -.8 -.2 -.7 -.3 -.8 -.3 -.7 -.4 -.7 -.3 -.7 -.4 -.7 -.5 -.6 -.4 -.6 -.5 -.7 -.5 -.6 -.5 -.5 -.6 -.6 -.6 -.5 -.6 -.5 -.6 -.5 -.6 -.4 -.7 -.4 -.7 -.4 -.7 -.4 -.7 -.3 -.7 -.3 -.8 -.2 -.7 -.2 -.8 -.2 -.8 -.2 -.8 -.2 -.8 -.1 -.7 -.2 -.8 -.2 -.8 -.5 -.6" fill="none" stroke="#ff0000" stroke-width="1.7" stroke-linejoin="round" stroke-linecap="butt"/>
<path d="M519.2,153.8l0.7 .4 .5 .6 .5 .6 .4 .7 .3 .8 .1 .8 0 .7 -.1 .8 -.2 .8 -.3 .7 -.4 .7 -.5 .6 -.6 .6 -.6 .5 -.7 .4 -.7 .4 -.7 .3 -.8 .3 -.7 .3 -.8 .2 -.8 .1 -.8 .1 -.7 .3 -.8 .2 -.7 .3 -.8 .1 -.8 .2 -.8 0 -.8 .1 -.8 0 -.8 0 -.8 -.1 -.8 -.1 -.7 -.1 -.8 -.2 -.8 -.2 -.8 -.2 -.7 -.2 -.8 -.3 -.7 -.4 -.7 -.3 -.7 -.4 -.7 -.4 -.6 -.5 -.7 -.4 -.6 -.5 -.6 -.6 -.6 -.5 -.5 -.6 -.6 -.6 -.5 -.6 -.5 -.6 -.4 -.7 -.5 -.6 -.4 -.7 -.3 -.7 -.4 -.7 -.3 -.8 -.3 -.7 -.2 -.8 -.3 -.7 -.2 -.8 -.1 -.8 -.2 -.8 -.1 -.8 -.1 -.7 -.1 -.8 -.1 -.8 -.2 -.8 -.3 -.7" fill="none" stroke="#0000ff" stroke-width="1.7" stroke-linejoin="round" stroke-linecap="butt"/>
<path d="M518.5,157.5l0.6 .5 .6 .5 .5 .6 .4 .7 .2 .8 .2 .7 0 .8 0 .8 -.2 .8 -.3 .7 -.4 .7 -.4 .7 -.5 .6 -.6 .5 -.6 .5 -.7 .5 -.7 .3 -.7 .4 -.7 .3 -.8 .3 -.7 .2 -.8 .2 -.8 .1 -.7 .1 -.8 .3 -.7 .2 -.8 .2 -.8 .2 -.8 .1 -.7 .1 -.8 0 -.8 0 -.8 0 -.8 0 -.8 -.1 -.8 -.1 -.7 -.2 -.8 -.2 -.8 -.2 -.7 -.2 -.8 -.3 -.7 -.3 -.7 -.3 -.7 -.4 -.7 -.4 -.7 -.4 -.7 -.4 -.6 -.5 -.6 -.5 -.6 -.5 -.6 -.5 -.6 -.6 -.5 -.5 -.5 -.6 -.5 -.7 -.5 -.6 -.4 -.6 -.4 -.7 -.4 -.7 -.4 -.7 -.3 -.7 -.3 -.8 -.3 -.7 -.2 -.8 -.2 -.7 -.2 -.8 -.1 -.8 -.1 -.8 -.1 -.7 0 -.8 0 -.8 0 -.8 .1 -.8 0 -.8 .1 -.8 -.2 -.7" fill="none" stroke="#000" stroke-width="1.7" stroke-linejoin="round" stroke-linecap="butt"/>
<path d="M488.0,150.2l-0.5 -.6 -.7 -.4 -.8 -.3 -.7 -.3 -.7 -.3 -.8 -.3 -.7 -.3 -.7 -.4 -.7 -.4 -.6 -.5 -.7 -.4 -.6 -.5 -.6 -.5 -.6 -.6 -.6 -.5 -.5 -.6 -.5 -.6 -.5 -.6 -.5 -.7 -.4 -.7 -.4 -.6 -.4 -.7 -.3 -.8 -.4 -.7 -.2 -.7 -.3 -.8 -.2 -.7 -.2 -.8 -.2 -.8 -.1 -.8 -.1 -.8 -.1 -.7 0 -.8 0 -.8 0 -.8 .1 -.8 .1 -.8 .1 -.8 .2 -.8 .2 -.7 .2 -.8 .3 -.7 .3 -.8 .4 -.7 .3 -.7 .5 -.7 .4 -.6 .5 -.6 .5 -.6 .6 -.6 .6 -.5 .6 -.5 .7 -.5 .7 -.4 .7 -.3 .7 -.3 .8 -.2 .8 -.1 .8 0 .8 0 .7 .2 .7 .4 .7 .5 .4 .6 .2 .8 -.1 .8" fill="none" stroke="#ff0000" stroke-width="1.7" stroke-linejoin="round" stroke-linecap="butt"/>
<path d="M487.5,145.5l-0.4 -.7 -.5 -.6 -.6 -.5 -.6 -.5 -.6 -.5 -.6 -.5 -.7 -.5 -.6 -.5 -.5 -.5 -.6 -.6 -.5 -.6 -.6 -.6 -.4 -.6 -.5 -.7 -.4 -.7 -.4 -.7 -.4 -.7 -.3 -.7 -.3 -.7 -.3 -.8 -.3 -.7 -.2 -.8 -.1 -.8 -.2 -.8 -.1 -.7 0 -.8 -.1 -.8 0 -.8 .1 -.8 .1 -.8 .1 -.8 .1 -.8 .2 -.8 .3 -.7 .2 -.8 .4 -.7 .3 -.7 .4 -.7 .4 -.7 .5 -.6 .5 -.7 .5 -.5 .6 -.6 .6 -.5 .7 -.5 .7 -.4 .7 -.3 .7 -.3 .8 -.2 .8 -.1 .8 0 .8 .1 .7 .3 .6 .5 .5 .7 .1 .8 -.3 .7" fill="none" stroke="#0000ff" stroke-width="1.7" stroke-linejoin="round" stroke-linecap="butt"/>
<path d="M485.7,147.6l-0.4 -.6 -.7 -.4 -.8 -.3 -.7 -.3 -.7 -.4 -.7 -.3 -.7 -.4 -.7 -.4 -.7 -.4 -.6 -.5 -.6 -.5 -.6 -.6 -.6 -.5 -.5 -.6 -.5 -.6 -.5 -.6 -.5 -.7 -.4 -.7 -.4 -.6 -.4 -.7 -.3 -.8 -.3 -.7 -.3 -.7 -.2 -.8 -.3 -.8 -.1 -.7 -.2 -.8 -.1 -.8 -.1 -.8 0 -.8 0 -.8 0 -.8 .1 -.8 .1 -.8 .1 -.8 .2 -.7 .2 -.8 .3 -.8 .3 -.7 .3 -.7 .3 -.7 .4 -.7 .5 -.7 .4 -.6 .5 -.6 .6 -.6 .6 -.6 .6 -.5 .7 -.4 .6 -.4 .8 -.3 .7 -.3 .8 -.2 .8 -.1 .8 .1 .7 .2 .7 .4 .5 .6 .1 .8 -.3 .7" fill="none" stroke="#000" stroke-width="1.7" stroke-linejoin="round" stroke-linecap="butt"/>
<path d="M487.3,118.6l-0.2 .8 -.4 .7 -.5 .5 -.7 .5 -.7 .3 -.8 .2 -.8 .1 -.8 0 -.8 0 -.8 -.2 -.7 -.1 -.8 -.3 -.7 -.3 -.8 -.3 -.7 -.4 -.6 -.4 -.7 -.5 -.6 -.5 -.6 -.5 -.6 -.6 -.5 -.6 -.5 -.6 -.5 -.6 -.5 -.7 -.4 -.6 -.4 -.7 -.3 -.7 -.4 -.8 -.3 -.7 -.3 -.8 -.2 -.7 -.2 -.8 -.2 -.8 -.1 -.7 -.2 -.8 -.1 -.8 0 -.8 -.1 -.8 0 -.8 .1 -.8 0 -.8 .1 -.8 .1 -.8 .2 -.8 .1 -.7 .2 -.8 .3 -.8 .2 -.7 .3 -.8 .3 -.7 .4 -.7 .3 -.7 .4 -.7 .5 -.7 .4 -.7 .5 -.6 .5 -.6 .5 -.6 .5 -.6 .6 -.6 .6 -.5 .6 -.5 .6 -.5 .7 -.5 .7 -.4 .7 -.4 .7 -.4 .7 -.3 .7 -.3 .8 -.3 .7 -.3 .8 -.2 .7 -.3 .5 -.6" fill="none" stroke="#ff0000" stroke-width="1.7" stroke-linejoin="round" stroke-linecap="butt"/>
<path d="M489.8,116.8l-0.4 .7 -.6 .5 -.7 .4 -.7 .2 -.8 .1 -.8 .1 -.8 -.1 -.7 -.1 -.8 -.2 -.8 -.3 -.7 -.3 -.7 -.4 -.7 -.4 -.6 -.4 -.6 -.5 -.6 -.5 -.6 -.6 -.5 -.6 -.5 -.6 -.5 -.6 -.5 -.6 -.4 -.7 -.4 -.7 -.3 -.7 -.3 -.7 -.3 -.8 -.3 -.7 -.2 -.8 -.2 -.7 -.2 -.8 -.1 -.8 -.2 -.8 0 -.8 -.1 -.7 0 -.8 0 -.8 0 -.8 .1 -.8 .1 -.8 .1 -.8 .2 -.7 .2 -.8 .2 -.8 .2 -.7 .3 -.8 .3 -.7 .3 -.7 .3 -.7 .4 -.7 .4 -.7 .4 -.7 .5 -.6 .4 -.7 .5 -.6 .5 -.6 .6 -.6 .5 -.5 .6 -.6 .6 -.5 .7 -.5 .6 -.4 .7 -.5 .6 -.4 .7 -.4 .7 -.3 .7 -.3 .8 -.3 .7 -.3 .8 -.2 .7 -.2 .8 -.2 .8 -.2 .7 -.3 .7 -.4" fill="none" stroke="#0000ff" stroke-width="1.7" stroke-linejoin="round" stroke-linecap="butt"/>
<path d="M484.8,117.8l-0.4 .7 -.7 .5 -.7 .3 -.7 .2 -.8 .1 -.8 0 -.8 0 -.8 -.2 -.7 -.2 -.8 -.2 -.7 -.3 -.7 -.4 -.7 -.4 -.7 -.5 -.6 -.4 -.6 -.5 -.6 -.6 -.5 -.5 -.6 -.6 -.5 -.7 -.4 -.6 -.5 -.7 -.4 -.6 -.4 -.7 -.3 -.7 -.4 -.8 -.3 -.7 -.2 -.7 -.3 -.8 -.2 -.8 -.2 -.7 -.1 -.8 -.1 -.8 -.1 -.8 -.1 -.8 -.1 -.8 0 -.8 0 -.7 .1 -.8 .1 -.8 .1 -.8 .1 -.8 .1 -.8 .2 -.8 .2 -.7 .2 -.8 .3 -.7 .3 -.8 .3 -.7 .3 -.7 .4 -.7 .3 -.7 .4 -.7 .5 -.7 .4 -.6 .5 -.7 .5 -.6 .5 -.6 .6 -.6 .5 -.5 .6 -.6 .6 -.5 .6 -.5 .7 -.4 .6 -.5 .7 -.4 .7 -.4 .7 -.4 .7 -.3 .7 -.3 .8 -.3 .8 -.2 .7 -.2 .8 -.1 .8 -.2 .8 0 .8 -.1 .8 -.1 .7 -.2" fill="none" stroke="#000" stroke-width="1.7" stroke-linejoin="round" stroke-linecap="butt"/>
<path d="M484.7,83.5l0.2 -.7 -.1 -.8 -.1 -.8 -.2 -.8 -.1 -.8 0 -.8 0 -.8 0 -.8 0 -.8 .1 -.7 .1 -.8 .1 -.8 .2 -.8 .2 -.8 .3 -.7 .2 -.8 .3 -.7 .3 -.7 .4 -.7 .4 -.7 .4 -.7 .4 -.7 .5 -.7 .4 -.6 .5 -.6 .6 -.6 .5 -.6 .6 -.6 .5 -.5 .6 -.5 .7 -.5 .6 -.5 .7 -.4 .6 -.5 .7 -.4 .7 -.3 .7 -.4 .8 -.3 .7 -.3 .7 -.3 .8 -.2 .8 -.3 .7 -.2 .8 -.1 .8 -.1 .8 -.1 .8 -.1 .8 0 .8 0 .8 0 .8 .1 .7 0 .8 .2 .8 .1 .8 .3 .7 .2 .8 .3 .7 .3 .7 .3 .7 .4 .7 .4 .6 .5 .6 .5 .6 .6 .6 .5 .5 .7 .4 .6 .4 .7 .3 .8 .2 .7 .1 .8 0 .8 -.1 .8 -.4 .7 -.5 .6 -.6 .5 -.8 .1" fill="none" stroke="#ff0000" stroke-width="1.7" stroke-linejoin="round" stroke-linecap="butt"/>
<path d="M491.3,80.7l0.5 -.6 .2 -.8 .1 -.8 .1 -.8 .1 -.8 .1 -.7 .1 -.8 .2 -.8 .2 -.8 .2 -.7 .3 -.8 .3 -.7 .3 -.7 .4 -.7 .4 -.7 .4 -.7 .5 -.6 .4 -.7 .5 -.6 .5 -.6 .6 -.6 .5 -.5 .6 -.5 .6 -.5 .7 -.5 .6 -.5 .7 -.4 .6 -.4 .7 -.4 .8 -.4 .7 -.3 .7 -.3 .8 -.3 .7 -.2 .8 -.2 .7 -.2 .8 -.1 .8 -.1 .8 -.1 .8 -.1 .8 0 .8 .1 .7 0 .8 .1 .8 .1 .8 .2 .8 .2 .7 .2 .7 .3 .8 .3 .7 .4 .7 .4 .6 .4 .6 .5 .6 .5 .6 .6 .5 .6 .5 .7 .4 .6 .3 .8 .2 .7 .2 .8 0 .8 -.2 .8 -.3 .7 -.6 .5 -.7 .3 -.8 0" fill="none" stroke="#0000ff" stroke-width="1.7" stroke-linejoin="round" stroke-linecap="butt"/>
<path d="M487.6,79.6l0.3 -.7 -.1 -.8 -.1 -.8 -.1 -.7 0 -.8 0 -.8 0 -.8 .1 -.8 .1 -.8 .1 -.8 .2 -.7 .2 -.8 .2 -.8 .3 -.7 .3 -.7 .3 -.8 .4 -.7 .4 -.7 .4 -.6 .5 -.7 .4 -.6 .5 -.6 .5 -.6 .6 -.6 .5 -.6 .6 -.5 .6 -.6 .6 -.4 .6 -.5 .7 -.5 .7 -.4 .6 -.4 .7 -.4 .8 -.3 .7 -.3 .7 -.3 .8 -.3 .7 -.2 .8 -.2 .8 -.2 .7 -.2 .8 -.1 .8 -.1 .8 0 .8 -.1 .8 .1 .8 0 .8 .1 .7 .1 .8 .1 .8 .2 .7 .3 .8 .2 .7 .3 .7 .4 .7 .3 .7 .5 .7 .4 .6 .5 .5 .6 .6 .5 .5 .7 .4 .6 .3 .7 .3 .8 .1 .8 0 .8 -.2 .7 -.5 .7 -.7 .3 -.7 0" fill="none" stroke="#000" stroke-width="1.7" stroke-linejoin="round" stroke-linecap="butt"/>
<path d="M517.5,69.5l-0.8 .1 -.8 -.1 -.7 -.3 -.6 -.4 -.6 -.5 -.5 -.7 -.4 -.6 -.4 -.7 -.2 -.8 -.3 -.8 -.1 -.7 -.1 -.8 0 -.8 0 -.8 0 -.8 .1 -.8 .2 -.8 .2 -.7 .2 -.8 .3 -.7 .3 -.8 .3 -.7 .3 -.7 .4 -.7 .5 -.7 .4 -.6 .5 -.7 .5 -.6 .5 -.6 .5 -.6 .6 -.5 .6 -.5 .6 -.6 .6 -.5 .6 -.4 .7 -.5 .7 -.4 .6 -.4 .7 -.4 .7 -.3 .8 -.4 .7 -.3 .7 -.3 .8 -.2 .7 -.3 .8 -.2 .8 -.2 .8 -.1 .7 -.1 .8 -.2 .8 0 .8 -.1 .8 0 .8 0 .8 0 .8 0 .8 .1 .7 .1 .8 .1 .8 .2 .8 .2 .7 .2 .8 .2 .8 .3 .7 .2 .7 .4 .7 .3 .7 .4 .7 .3 .7 .5 .7 .4 .6 .5 .6 .4 .6 .6 .6 .5 .6 .6 .5 .5 .5 .7 .5 .6 .5 .6 .4 .7 .4 .7 .3 .7 .4 .7 .6 .4" fill="none" stroke="#ff0000" stroke-width="1.7" stroke-linejoin="round" stroke-linecap="butt"/>
<path d="M522.7,71.3l-0.8 0 -.8 -.4 -.6 -.4 -.5 -.6 -.4 -.7 -.4 -.7 -.2 -.8 -.2 -.8 -.1 -.7 -.1 -.8 0 -.8 .1 -.8 .1 -.8 .1 -.8 .2 -.8 .2 -.7 .3 -.8 .3 -.7 .4 -.7 .4 -.7 .4 -.7 .4 -.6 .5 -.7 .5 -.6 .5 -.6 .6 -.6 .5 -.5 .6 -.6 .6 -.5 .7 -.5 .6 -.4 .7 -.5 .6 -.4 .7 -.4 .7 -.4 .7 -.3 .8 -.3 .7 -.3 .8 -.3 .7 -.2 .8 -.3 .8 -.1 .7 -.2 .8 -.2 .8 -.1 .8 -.1 .8 0 .8 -.1 .8 0 .8 0 .8 .1 .7 0 .8 .1 .8 .2 .8 .1 .8 .2 .8 .2 .7 .2 .8 .2 .7 .3 .8 .3 .7 .3 .7 .4 .7 .4 .7 .3 .7 .5 .6 .4 .7 .5 .6 .5 .6 .5 .6 .5 .5 .6 .6 .6 .5 .6 .5 .6 .4 .7 .5 .6 .4 .7 .4 .7 .3 .7 .3 .8 .3 .7 .3 .7 .6 .6" fill="none" stroke="#0000ff" stroke-width="1.7" stroke-linejoin="round" stroke-linecap="butt"/>
<path d="M519.3,66.3l-0.8 -.1 -.7 -.4 -.6 -.5 -.5 -.6 -.3 -.7 -.3 -.8 -.3 -.7 -.1 -.8 -.1 -.8 0 -.8 0 -.8 .1 -.8 .1 -.8 .2 -.8 .2 -.7 .2 -.8 .3 -.7 .3 -.8 .3 -.7 .4 -.7 .4 -.7 .5 -.6 .4 -.7 .5 -.6 .5 -.6 .6 -.6 .5 -.6 .6 -.5 .6 -.6 .6 -.5 .6 -.5 .7 -.4 .6 -.5 .7 -.4 .7 -.4 .7 -.4 .7 -.3 .7 -.3 .8 -.3 .7 -.3 .8 -.3 .7 -.2 .8 -.2 .8 -.2 .8 -.2 .7 -.1 .8 -.1 .8 -.1 .8 -.1 .8 0 .8 -.1 .8 .1 .8 0 .8 0 .8 .1 .8 .1 .8 .2 .7 .1 .8 .2 .8 .2 .7 .2 .8 .3 .7 .2 .8 .3 .7 .4 .7 .3 .7 .4 .7 .4 .7 .4 .7 .4 .6 .5 .7 .5 .6 .5 .6 .5 .5 .5 .6 .6 .5 .6 .5 .6 .5 .7 .5 .6 .4 .7 .4 .7 .3 .7 .4 .7 .3 .8 .2 .7 .2 .8 .2 .8 .4 .6" fill="none" stroke="#000" stroke-width="1.7" stroke-linejoin="round" stroke-linecap="butt"/>
<path d="M554.0,55.5l0.7 -.3 .7 -.4 .6 -.5 .7 -.5 .6 -.4 .7 -.4 .7 -.4 .8 -.3 .7 -.3 .8 -.2 .7 -.3 .8 -.2 .8 -.2 .8 -.1 .8 -.1 .8 -.1 .8 0 .8 -.1 .8 .1 .7 0 .8 .1 .8 0 .8 .2 .8 .1 .8 .2 .8 .2 .7 .2 .8 .2 .7 .3 .8 .3 .7 .3 .7 .4 .8 .3 .7 .4 .6 .4 .7 .5 .7 .4 .6 .5 .6 .5 .6 .5 .6 .5 .6 .6 .6 .6 .5 .5 .5 .7 .5 .6 .5 .6 .5 .7 .4 .6 .4 .7 .4 .7 .4 .7 .3 .8 .3 .7 .3 .7 .3 .8 .2 .7 .2 .8 .2 .8 .2 .8 .1 .8 .1 .8 0 .8 0 .8 0 .8 -.1 .8 0 .8 -.2 .7 -.1 .8 -.2 .8 -.3 .8 -.3 .7 -.3 .7 -.4 .7 -.4 .7 -.5 .6 -.5 .6 -.6 .6 -.6 .5 -.7 .4 -.7 .4 -.8 .2 -.8 .1 -.8 -.1 -.7 -.3 -.6 -.5 -.4 -.7" fill="none" stroke="#ff0000" stroke-width="1.7" stroke-linejoin="round" stroke-linecap="butt"/>
<path d="M561.3,62.0l0.8 .1 .7 -.3 .8 -.3 .7 -.3 .8 -.3 .7 -.2 .8 -.2 .8 -.2 .8 -.1 .7 -.1 .8 -.1 .8 0 .8 0 .8 0 .8 .1 .8 .1 .8 .1 .8 .1 .8 .2 .7 .2 .8 .3 .7 .2 .8 .3 .7 .3 .7 .4 .7 .3 .7 .4 .7 .5 .7 .4 .6 .5 .6 .4 .6 .6 .6 .5 .6 .5 .6 .6 .5 .6 .5 .6 .5 .6 .5 .7 .4 .6 .5 .7 .4 .7 .3 .7 .4 .7 .3 .7 .3 .8 .3 .7 .2 .8 .2 .7 .2 .8 .2 .8 .1 .8 .1 .8 0 .8 0 .8 0 .7 0 .8 -.1 .8 -.2 .8 -.1 .8 -.2 .8 -.3 .7 -.3 .8 -.3 .7 -.4 .7 -.5 .6 -.4 .7 -.6 .6 -.6 .5 -.6 .5 -.7 .4 -.7 .3 -.8 .2 -.8 0 -.8 -.2 -.6 -.3 -.5 -.7 -.3 -.7" fill="none" stroke="#0000ff" stroke-width="1.7" stroke-linejoin="round" stroke-linecap="butt"/>
<path d="M560.9,57.4l0.7 -.1 .7 -.4 .7 -.5 .7 -.4 .7 -.3 .7 -.4 .7 -.3 .8 -.2 .8 -.2 .7 -.2 .8 -.2 .8 -.1 .8 -.1 .8 0 .8 0 .8 0 .8 0 .8 .1 .8 .1 .7 .1 .8 .1 .8 .2 .8 .2 .7 .3 .8 .2 .7 .3 .8 .3 .7 .3 .7 .4 .7 .4 .7 .4 .7 .4 .6 .5 .7 .4 .6 .5 .6 .5 .6 .5 .6 .6 .5 .6 .6 .5 .5 .7 .5 .6 .5 .6 .4 .7 .5 .6 .4 .7 .4 .7 .3 .7 .4 .7 .3 .8 .3 .7 .2 .8 .3 .7 .2 .8 .2 .8 .1 .8 .1 .7 .1 .8 0 .8 .1 .8 -.1 .8 0 .8 -.1 .8 -.2 .8 -.1 .8 -.2 .7 -.3 .8 -.3 .7 -.3 .8 -.4 .6 -.5 .7 -.5 .6 -.5 .6 -.6 .5 -.7 .5 -.7 .3 -.8 .2 -.8 0 -.7 -.2 -.6 -.6 -.2 -.8" fill="none" stroke="#000" stroke-width="1.7" stroke-linejoin="round" stroke-linecap="butt"/>
<path d="M581.7,84.3l-0.4 -.7 -.2 -.8 .1 -.8 .2 -.7 .3 -.8 .4 -.6 .5 -.7 .5 -.5 .6 -.6 .6 -.4 .7 -.4 .7 -.4 .7 -.3 .8 -.3 .7 -.2 .8 -.2 .8 -.2 .8 -.1 .8 -.1 .8 0 .7 0 .8 0 .8 .1 .8 .1 .8 .1 .8 .2 .7 .2 .8 .2 .8 .2 .7 .3 .7 .3 .8 .3 .7 .3 .7 .4 .7 .4 .6 .4 .7 .4 .7 .5 .6 .5 .6 .5 .6 .5 .6 .5 .6 .6 .5 .5 .6 .6 .5 .6 .5 .6 .5 .7 .4 .6 .5 .7 .4 .6 .4 .7 .4 .7 .3 .7 .4 .7 .3 .7 .3 .8 .3 .7 .2 .8 .3 .7 .2 .8 .2 .7 .1 .8 .2 .8 .1 .8 .1 .8 .1 .8 0 .7 .1 .8 0 .8 -.1 .8 0 .8 -.1 .8 -.1 .8 -.1 .8 -.2 .7 -.1 .8 -.2 .8 -.3 .7 -.2 .8 -.3 .7 -.3 .8 -.4 .7 -.3 .7 -.4 .7 -.5 .6 -.4 .7 -.5 .6 -.5 .6 -.5 .6 -.6 .6 -.6 .5 -.6 .5 -.6 .4 -.4 .6" fill="none" stroke="#ff0000" stroke-width="1.7" stroke-linejoin="round" stroke-linecap="butt"/>
<path d="M583.2,91.5l-0.2 -.8 0 -.8 .3 -.7 .3 -.7 .5 -.7 .6 -.6 .6 -.5 .6 -.4 .7 -.4 .7 -.4 .8 -.2 .7 -.3 .8 -.2 .8 -.1 .8 -.1 .8 -.1 .8 0 .8 .1 .8 0 .8 .1 .7 .1 .8 .2 .8 .2 .8 .2 .7 .3 .8 .2 .7 .4 .7 .3 .7 .4 .7 .3 .7 .4 .7 .5 .6 .4 .7 .5 .6 .5 .6 .5 .6 .6 .5 .5 .6 .6 .5 .6 .5 .6 .5 .6 .5 .6 .5 .7 .4 .7 .4 .6 .4 .7 .4 .7 .4 .7 .3 .8 .3 .7 .3 .7 .3 .8 .2 .7 .3 .8 .2 .8 .1 .8 .2 .7 .1 .8 .1 .8 .1 .8 .1 .8 0 .8 0 .8 0 .8 0 .8 -.1 .8 0 .8 -.1 .8 -.2 .7 -.1 .8 -.2 .8 -.2 .8 -.3 .7 -.2 .8 -.3 .7 -.3 .8 -.3 .7 -.4 .7 -.4 .7 -.4 .7 -.4 .6 -.5 .7 -.5 .6 -.5 .6 -.5 .6 -.6 .6 -.6 .5 -.6 .5 -.6 .5 -.7 .4 -.7 .5 -.7 .4 -.5 .5" fill="none" stroke="#0000ff" stroke-width="1.7" stroke-linejoin="round" stroke-linecap="butt"/>
<path d="M587.0,86.4l-0.1 -.8 .1 -.8 .3 -.7 .5 -.7 .5 -.6 .6 -.5 .6 -.5 .7 -.4 .7 -.3 .8 -.3 .7 -.3 .8 -.2 .8 -.1 .8 -.1 .8 -.1 .8 -.1 .8 0 .8 .1 .7 .1 .8 .1 .8 .1 .8 .2 .8 .2 .7 .2 .8 .2 .7 .3 .8 .3 .7 .3 .7 .4 .7 .4 .7 .4 .7 .4 .7 .4 .6 .5 .6 .5 .7 .5 .6 .5 .5 .5 .6 .6 .6 .6 .5 .6 .5 .6 .5 .6 .5 .6 .5 .6 .4 .7 .5 .7 .4 .7 .4 .7 .4 .7 .3 .7 .3 .7 .4 .7 .2 .8 .3 .7 .3 .8 .2 .7 .2 .8 .2 .8 .2 .8 .1 .7 .1 .8 .1 .8 .1 .8 .1 .8 0 .8 0 .8 0 .8 0 .8 -.1 .8 -.1 .8 -.1 .8 -.1 .8 -.1 .8 -.2 .7 -.2 .8 -.2 .8 -.3 .7 -.2 .8 -.3 .7 -.3 .8 -.4 .7 -.4 .7 -.3 .7 -.5 .7 -.4 .6 -.5 .7 -.4 .6 -.6 .6 -.5 .6 -.6 .6 -.5 .5 -.6 .5 -.7 .5 -.6 .5 -.7 .4 -.7 .4 -.7 .3 -.7 .4" fill="none" stroke="#000" stroke-width="1.7" stroke-linejoin="round" stroke-linecap="butt"/>
<path d="M607.7,118.7l0.6 .5 .7 .3 .7 .4 .7 .4 .7 .5 .6 .5 .6 .5 .6 .5 .6 .6 .5 .6 .5 .6 .5 .6 .4 .7 .5 .6 .4 .7 .4 .7 .3 .7 .4 .7 .3 .8 .3 .7 .3 .7 .2 .8 .2 .8 .2 .7 .2 .8 .1 .8 .1 .8 .1 .8 .1 .8 .1 .8 0 .8 0 .7 0 .8 -.1 .8 0 .8 -.1 .8 -.2 .8 -.1 .8 -.1 .8 -.2 .7 -.2 .8 -.2 .8 -.3 .7 -.3 .8 -.2 .7 -.4 .8 -.3 .7 -.3 .7 -.4 .7 -.4 .7 -.4 .7 -.4 .6 -.5 .7 -.5 .6 -.5 .7 -.5 .6 -.5 .6 -.5 .5 -.6 .6 -.6 .6 -.6 .5 -.6 .5 -.6 .5 -.6 .4 -.7 .5 -.7 .4 -.7 .4 -.7 .4 -.7 .3 -.7 .4 -.7 .3 -.8 .2 -.7 .3 -.8 .2 -.8 .2 -.8 .1 -.8 .1 -.7 .1 -.8 0 -.8 0 -.8 0 -.8 -.1 -.8 -.1 -.8 -.2 -.7 -.2 -.8 -.3 -.7 -.3 -.7 -.4 -.7 -.4 -.6 -.6 -.5 -.5 -.4 -.7 -.4 -.7 -.1 -.8 0 -.8 .3 -.7 .5 -.6" fill="none" stroke="#ff0000" stroke-width="1.7" stroke-linejoin="round" stroke-linecap="butt"/>
<path d="M604.5,129.6l0.3 .7 .6 .5 .6 .5 .5 .6 .6 .6 .5 .6 .5 .6 .4 .7 .5 .6 .4 .7 .3 .7 .4 .8 .3 .7 .3 .7 .2 .8 .3 .8 .2 .7 .1 .8 .2 .8 .1 .8 .1 .8 0 .8 .1 .8 0 .8 0 .8 -.1 .8 0 .7 -.1 .8 -.1 .8 -.2 .8 -.2 .8 -.1 .8 -.3 .7 -.2 .8 -.3 .7 -.2 .8 -.4 .7 -.3 .7 -.3 .8 -.4 .7 -.4 .6 -.4 .7 -.5 .7 -.4 .6 -.5 .7 -.5 .6 -.5 .6 -.6 .6 -.5 .6 -.6 .5 -.6 .5 -.6 .6 -.6 .4 -.7 .5 -.6 .5 -.7 .4 -.7 .4 -.7 .4 -.7 .3 -.7 .3 -.8 .3 -.7 .3 -.8 .2 -.8 .2 -.7 .2 -.8 .2 -.8 .1 -.8 .1 -.8 0 -.8 0 -.8 -.1 -.8 0 -.8 -.2 -.8 -.1 -.7 -.3 -.8 -.2 -.7 -.4 -.7 -.3 -.7 -.5 -.6 -.5 -.5 -.5 -.5 -.7 -.4 -.7 -.2 -.7 -.1 -.8 .2 -.8 .4 -.7 .7 -.4" fill="none" stroke="#0000ff" stroke-width="1.7" stroke-linejoin="round" stroke-linecap="butt"/>
<path d="M609.1,128.0l0.4 .6 .7 .4 .6 .5 .7 .5 .6 .5 .5 .6 .6 .6 .5 .6 .5 .6 .4 .7 .4 .6 .4 .7 .4 .7 .3 .7 .4 .8 .3 .7 .2 .8 .3 .7 .2 .8 .2 .8 .1 .7 .2 .8 .1 .8 .1 .8 0 .8 .1 .8 0 .8 0 .8 -.1 .8 0 .8 -.1 .8 -.1 .8 -.2 .8 -.1 .7 -.2 .8 -.2 .8 -.2 .7 -.3 .8 -.2 .8 -.3 .7 -.3 .7 -.4 .8 -.3 .7 -.4 .7 -.4 .7 -.4 .6 -.4 .7 -.5 .7 -.5 .6 -.5 .6 -.5 .6 -.5 .6 -.5 .6 -.6 .6 -.6 .5 -.6 .6 -.6 .5 -.6 .4 -.7 .5 -.6 .5 -.7 .4 -.7 .4 -.7 .4 -.7 .3 -.7 .3 -.8 .3 -.7 .3 -.8 .2 -.8 .3 -.7 .1 -.8 .2 -.8 .1 -.8 .1 -.8 0 -.8 0 -.8 0 -.8 -.1 -.8 -.1 -.7 -.2 -.8 -.2 -.8 -.3 -.7 -.3 -.7 -.4 -.6 -.4 -.6 -.6 -.5 -.6 -.4 -.7 -.3 -.7 .1 -.8 .3 -.7 .7 -.5" fill="none" stroke="#000" stroke-width="1.7" stroke-linejoin="round" stroke-linecap="butt"/>
<path d="M588.1,158.4l0.5 -.6 .7 -.4 .7 -.2 .8 -.1 .8 .1 .8 .2 .7 .3 .7 .3 .7 .4 .7 .5 .6 .5 .5 .6 .6 .6 .5 .6 .4 .6 .5 .7 .4 .7 .3 .7 .3 .7 .3 .7 .3 .8 .2 .7 .3 .8 .1 .8 .2 .8 .1 .7 .1 .8 .1 .8 0 .8 0 .8 0 .8 -.1 .8 0 .8 -.1 .8 -.1 .8 -.2 .7 -.1 .8 -.2 .8 -.2 .7 -.3 .8 -.2 .8 -.3 .7 -.3 .7 -.3 .8 -.3 .7 -.4 .7 -.4 .7 -.4 .7 -.4 .6 -.4 .7 -.5 .7 -.4 .6 -.5 .6 -.5 .7 -.5 .6 -.6 .5 -.5 .6 -.6 .6 -.6 .5 -.6 .5 -.6 .5 -.6 .5 -.6 .5 -.7 .5 -.6 .4 -.7 .5 -.7 .4 -.7 .3 -.7 .4 -.7 .4 -.7 .3 -.7 .3 -.8 .3 -.7 .3 -.8 .2 -.7 .2 -.8 .3 -.8 .1 -.7 .2 -.8 .1 -.8 .2 -.8 0 -.8 .1 -.8 .1 -.8 0 -.8 0 -.8 -.1 -.7 0 -.8 -.1 -.8 -.1 -.8 -.2 -.8 -.1 -.7 -.2 -.8 -.3 -.7 -.2 -.8 -.3 -.7 -.3 -.7 -.4 -.7 -.4 -.7 -.4 -.6 -.5 -.6 -.5 -.6 -.5 -.6 -.3" fill="none" stroke="#ff0000" stroke-width="1.7" stroke-linejoin="round" stroke-linecap="butt"/>
<path d="M581.1,163.3l0.7 -.5 .8 -.2 .8 0 .7 .1 .8 .3 .7 .3 .7 .4 .6 .5 .6 .5 .6 .6 .5 .6 .5 .6 .4 .7 .4 .7 .3 .7 .4 .7 .2 .8 .3 .7 .2 .8 .2 .8 .1 .7 .1 .8 .1 .8 .1 .8 0 .8 0 .8 0 .8 -.1 .8 -.1 .8 -.1 .8 -.1 .7 -.2 .8 -.2 .8 -.2 .8 -.2 .7 -.3 .8 -.2 .7 -.3 .7 -.4 .8 -.3 .7 -.4 .7 -.4 .7 -.4 .7 -.4 .6 -.4 .7 -.5 .7 -.5 .6 -.5 .6 -.5 .6 -.5 .6 -.5 .6 -.6 .5 -.6 .6 -.6 .5 -.6 .5 -.6 .5 -.6 .5 -.7 .5 -.6 .4 -.7 .5 -.7 .4 -.6 .4 -.7 .4 -.8 .3 -.7 .4 -.7 .3 -.7 .3 -.8 .3 -.7 .2 -.8 .2 -.8 .3 -.7 .2 -.8 .1 -.8 .2 -.8 .1 -.8 .1 -.7 .1 -.8 .1 -.8 0 -.8 0 -.8 0 -.8 0 -.8 -.1 -.8 -.1 -.8 -.1 -.8 -.1 -.7 -.2 -.8 -.1 -.8 -.2 -.7 -.3 -.8 -.2 -.7 -.3 -.8 -.3 -.7 -.4 -.7 -.4 -.6 -.4 -.7 -.4 -.7 -.5 -.6 -.5 -.6 -.5 -.6 -.5 -.5 -.6 -.5 -.6 -.6 -.5" fill="none" stroke="#0000ff" stroke-width="1.7" stroke-linejoin="round" stroke-linecap="butt"/>
<path d="M587.2,165.9l0.7 -.4 .8 -.1 .8 0 .7 .3 .7 .3 .7 .4 .7 .5 .6 .5 .5 .6 .5 .6 .5 .6 .4 .7 .4 .7 .4 .7 .3 .7 .3 .7 .3 .8 .2 .8 .2 .7 .2 .8 .1 .8 .1 .8 .1 .8 0 .8 0 .8 0 .8 0 .8 -.1 .8 -.1 .7 -.1 .8 -.1 .8 -.2 .8 -.1 .8 -.2 .7 -.3 .8 -.2 .8 -.3 .7 -.3 .8 -.3 .7 -.3 .7 -.3 .7 -.4 .7 -.4 .7 -.4 .7 -.4 .7 -.5 .7 -.4 .6 -.5 .6 -.5 .7 -.5 .6 -.5 .6 -.6 .6 -.5 .6 -.6 .5 -.6 .6 -.5 .5 -.7 .5 -.6 .5 -.6 .5 -.6 .5 -.7 .4 -.7 .4 -.6 .5 -.7 .4 -.7 .4 -.7 .3 -.7 .4 -.8 .3 -.7 .3 -.7 .3 -.8 .3 -.7 .2 -.8 .3 -.8 .2 -.7 .2 -.8 .2 -.8 .1 -.8 .2 -.8 .1 -.8 .1 -.7 .1 -.8 0 -.8 0 -.8 0 -.8 0 -.8 0 -.8 -.1 -.8 -.1 -.8 -.1 -.8 -.1 -.8 -.2 -.7 -.1 -.8 -.2 -.8 -.3 -.7 -.2 -.8 -.3 -.7 -.3 -.7 -.4 -.7 -.3 -.7 -.4 -.7 -.4 -.7 -.5 -.6 -.4 -.6 -.5 -.6 -.6 -.6 -.5 -.5 -.6 -.5 -.6 -.6 -.5" fill="none" stroke="#000" stroke-width="1.7" stroke-linejoin="round" stroke-linecap="butt"/>
<path d="M559.2,196.0l-0.1 .7 -.1 .8 -.1 .8 -.1 .8 -.2 .8 -.2 .7 -.3 .8 -.3 .7 -.3 .7 -.4 .7 -.3 .7 -.5 .7 -.4 .7 -.5 .6 -.4 .7 -.5 .6 -.6 .6 -.5 .5 -.6 .6 -.5 .5 -.6 .6 -.6 .5 -.7 .5 -.6 .4 -.7 .5 -.6 .4 -.7 .4 -.7 .4 -.7 .4 -.7 .3 -.7 .4 -.8 .3 -.7 .3 -.7 .3 -.8 .2 -.7 .2 -.8 .3 -.8 .1 -.8 .2 -.7 .2 -.8 .1 -.8 .1 -.8 .1 -.8 .1 -.8 0 -.8 .1 -.8 0 -.7 0 -.8 -.1 -.8 0 -.8 -.1 -.8 -.1 -.8 -.1 -.8 -.1 -.8 -.2 -.7 -.2 -.8 -.2 -.8 -.2 -.7 -.2 -.8 -.3 -.7 -.3 -.7 -.3 -.8 -.3 -.7 -.3 -.7 -.4 -.7 -.4 -.7 -.3 -.7 -.5 -.6 -.4 -.7 -.5 -.6 -.4 -.6 -.5 -.6 -.5 -.6 -.6 -.6 -.5 -.5 -.6 -.6 -.6 -.5 -.6 -.5 -.6 -.5 -.6 -.4 -.7 -.4 -.6 -.5 -.7 -.3 -.7 -.4 -.7 -.3 -.8 -.3 -.7 -.2 -.7 -.3 -.8 -.1 -.8 -.2 -.8 -.1 -.7 -.1 -.8 0 -.8 .1 -.8 .1 -.8 .1 -.8 .3 -.7 .3 -.8 .3 -.7 .5 -.6 .6 -.6 .7 -.4 .7 -.2 .8 0 .7 .3" fill="none" stroke="#ff0000" stroke-width="1.7" stroke-linejoin="round" stroke-linecap="butt"/>
<path d="M546.8,196.5l-0.3 .6 -.3 .8 -.2 .7 -.3 .7 -.4 .7 -.4 .7 -.4 .7 -.4 .7 -.5 .6 -.5 .6 -.5 .6 -.6 .6 -.6 .6 -.5 .5 -.7 .5 -.6 .5 -.6 .5 -.7 .4 -.6 .4 -.7 .4 -.7 .4 -.7 .4 -.8 .3 -.7 .3 -.7 .3 -.8 .3 -.7 .2 -.8 .2 -.8 .2 -.7 .2 -.8 .1 -.8 .2 -.8 .1 -.8 .1 -.8 0 -.8 .1 -.8 0 -.7 0 -.8 0 -.8 -.1 -.8 0 -.8 -.1 -.8 -.1 -.8 -.2 -.8 -.1 -.7 -.2 -.8 -.2 -.8 -.2 -.7 -.3 -.8 -.2 -.7 -.3 -.7 -.3 -.8 -.4 -.7 -.3 -.7 -.4 -.7 -.4 -.7 -.4 -.6 -.4 -.7 -.4 -.6 -.5 -.7 -.5 -.6 -.5 -.6 -.5 -.5 -.6 -.6 -.5 -.6 -.6 -.5 -.6 -.5 -.6 -.5 -.6 -.4 -.7 -.5 -.6 -.4 -.7 -.4 -.7 -.3 -.7 -.4 -.7 -.3 -.8 -.2 -.7 -.3 -.8 -.2 -.7 -.2 -.8 -.1 -.8 -.1 -.8 -.1 -.8 0 -.8 0 -.8 .1 -.7 .2 -.8 .2 -.8 .2 -.8 .3 -.7 .4 -.7 .5 -.6 .6 -.5 .7 -.5 .7 -.2 .8 -.1 .8 .3 .6 .4" fill="none" stroke="#0000ff" stroke-width="1.7" stroke-linejoin="round" stroke-linecap="butt"/>
<path d="M549.3,201.4l-0.3 .6 -.2 .7 -.2 .8 -.3 .7 -.3 .8 -.4 .7 -.4 .7 -.4 .6 -.4 .7 -.5 .6 -.5 .7 -.5 .6 -.5 .6 -.6 .5 -.6 .6 -.6 .5 -.6 .5 -.6 .5 -.6 .4 -.7 .5 -.7 .4 -.6 .4 -.7 .4 -.7 .3 -.8 .4 -.7 .3 -.7 .3 -.8 .3 -.7 .2 -.8 .3 -.7 .2 -.8 .2 -.8 .2 -.8 .1 -.7 .1 -.8 .2 -.8 0 -.8 .1 -.8 .1 -.8 0 -.8 0 -.8 0 -.8 -.1 -.7 0 -.8 -.1 -.8 -.1 -.8 -.1 -.8 -.2 -.8 -.1 -.7 -.2 -.8 -.2 -.8 -.2 -.7 -.3 -.8 -.2 -.7 -.3 -.7 -.3 -.8 -.3 -.7 -.4 -.7 -.3 -.7 -.4 -.7 -.4 -.6 -.4 -.7 -.4 -.7 -.5 -.6 -.5 -.6 -.5 -.6 -.5 -.6 -.5 -.6 -.5 -.5 -.6 -.6 -.6 -.5 -.6 -.5 -.6 -.5 -.6 -.5 -.7 -.4 -.6 -.4 -.7 -.4 -.7 -.4 -.7 -.3 -.7 -.3 -.7 -.3 -.8 -.2 -.7 -.3 -.8 -.1 -.8 -.2 -.7 -.1 -.8 -.1 -.8 0 -.8 .1 -.8 0 -.8 .2 -.8 .2 -.7 .3 -.8 .3 -.7 .5 -.6 .5 -.6 .7 -.4 .8 -.2 .7 .2 .6 .5" fill="none" stroke="#000" stroke-width="1.7" stroke-linejoin="round" stroke-linecap="butt"/>
<path d="M510.9,189.5l0.7 .3 .6 .6 .4 .7 .2 .7 .1 .8 .1 .8 -.1 .8 -.2 .8 -.2 .7 -.3 .8 -.3 .7 -.4 .7 -.4 .7 -.4 .6 -.5 .6 -.6 .6 -.5 .6 -.6 .6 -.6 .5 -.6 .5 -.6 .5 -.7 .4 -.6 .5 -.7 .4 -.7 .3 -.7 .4 -.8 .3 -.7 .3 -.7 .3 -.8 .3 -.8 .2 -.7 .2 -.8 .2 -.8 .2 -.8 .1 -.7 .1 -.8 .1 -.8 .1 -.8 0 -.8 .1 -.8 0 -.8 0 -.8 -.1 -.8 0 -.8 -.1 -.8 -.1 -.8 -.1 -.7 -.1 -.8 -.2 -.8 -.2 -.8 -.2 -.7 -.2 -.8 -.2 -.7 -.3 -.8 -.2 -.7 -.3 -.8 -.3 -.7 -.4 -.7 -.3 -.7 -.4 -.7 -.4 -.7 -.4 -.7 -.4 -.6 -.4 -.7 -.4 -.7 -.5 -.6 -.5 -.6 -.5 -.6 -.5 -.6 -.5 -.6 -.5 -.6 -.6 -.5 -.6 -.6 -.5 -.5 -.6 -.5 -.6 -.5 -.7 -.5 -.6 -.5 -.6 -.4 -.7 -.5 -.7 -.4 -.6 -.4 -.7 -.3 -.7 -.4 -.7 -.3 -.8 -.4 -.7 -.3 -.7 -.2 -.8 -.3 -.7 -.2 -.8 -.2 -.7 -.2 -.8 -.2 -.8 -.1 -.8 -.2 -.8 0 -.7 -.1 -.8 0 -.8 -.1 -.8 .1 -.8 0 -.8 .1 -.8 .1 -.8 .2 -.8 .1 -.8 .3 -.7 .2 -.8 .3 -.7 .4 -.7 .3 -.7 .3 -.7" fill="none" stroke="#ff0000" stroke-width="1.7" stroke-linejoin="round" stroke-linecap="butt"/>
<path d="M503.5,183.2l0.6 .5 .5 .7 .2 .8 .1 .7 0 .8 -.1 .8 -.2 .8 -.3 .7 -.4 .8 -.3 .7 -.5 .6 -.5 .7 -.5 .6 -.5 .5 -.6 .6 -.6 .5 -.6 .5 -.7 .5 -.6 .4 -.7 .4 -.7 .4 -.7 .4 -.7 .3 -.8 .3 -.7 .3 -.8 .2 -.7 .2 -.8 .2 -.8 .2 -.8 .1 -.8 .2 -.8 .1 -.7 0 -.8 .1 -.8 0 -.8 0 -.8 0 -.8 0 -.8 -.1 -.8 -.1 -.8 -.1 -.8 -.1 -.8 -.2 -.7 -.1 -.8 -.2 -.8 -.2 -.7 -.2 -.8 -.3 -.8 -.3 -.7 -.3 -.7 -.3 -.8 -.3 -.7 -.3 -.7 -.4 -.7 -.4 -.7 -.4 -.7 -.4 -.6 -.4 -.7 -.4 -.6 -.5 -.7 -.5 -.6 -.5 -.6 -.5 -.6 -.5 -.6 -.5 -.6 -.6 -.5 -.5 -.6 -.6 -.5 -.6 -.5 -.6 -.5 -.6 -.5 -.7 -.5 -.6 -.4 -.7 -.5 -.6 -.4 -.7 -.4 -.7 -.4 -.7 -.4 -.7 -.3 -.7 -.3 -.7 -.4 -.8 -.2 -.7 -.3 -.7 -.3 -.8 -.2 -.8 -.2 -.7 -.2 -.8 -.2 -.8 -.1 -.8 -.1 -.8 -.1 -.7 -.1 -.8 -.1 -.8 0 -.8 0 -.8 0 -.8 .1 -.8 0 -.8 .1 -.8 .2 -.8 .1 -.8 .2 -.7 .2 -.8 .3 -.7 .3 -.8 .3 -.7 .3 -.7 .4 -.7 .4 -.7 .5 -.7 .5 -.6 .4 -.6" fill="none" stroke="#0000ff" stroke-width="1.7" stroke-linejoin="round" stroke-linecap="butt"/>
<path d="M502.1,190.1l0.5 .5 .4 .7 .1 .8 0 .8 -.1 .8 -.2 .8 -.3 .7 -.3 .8 -.4 .7 -.5 .6 -.5 .7 -.5 .6 -.5 .5 -.6 .6 -.6 .5 -.6 .5 -.7 .5 -.7 .4 -.6 .4 -.7 .4 -.7 .4 -.8 .3 -.7 .4 -.8 .2 -.7 .3 -.8 .2 -.7 .3 -.8 .2 -.8 .1 -.8 .2 -.8 .1 -.8 .1 -.8 .1 -.8 0 -.8 0 -.8 .1 -.8 -.1 -.8 0 -.8 0 -.7 -.1 -.8 -.1 -.8 -.1 -.8 -.2 -.8 -.1 -.8 -.2 -.8 -.2 -.7 -.2 -.8 -.2 -.8 -.3 -.7 -.2 -.8 -.3 -.7 -.3 -.7 -.3 -.8 -.4 -.7 -.3 -.7 -.4 -.7 -.4 -.7 -.4 -.7 -.4 -.6 -.4 -.7 -.5 -.6 -.4 -.7 -.5 -.6 -.5 -.6 -.5 -.6 -.5 -.6 -.6 -.6 -.5 -.6 -.6 -.5 -.6 -.6 -.6 -.5 -.6 -.5 -.6 -.5 -.6 -.5 -.6 -.5 -.7 -.4 -.6 -.5 -.7 -.4 -.7 -.4 -.7 -.4 -.7 -.4 -.7 -.3 -.7 -.4 -.7 -.3 -.7 -.3 -.8 -.3 -.7 -.2 -.8 -.3 -.7 -.2 -.8 -.2 -.8 -.2 -.7 -.2 -.8 -.1 -.8 -.2 -.8 -.1 -.8 0 -.8 -.1 -.8 0 -.8 -.1 -.8 .1 -.8 0 -.8 0 -.8 .1 -.8 .1 -.8 .2 -.8 .1 -.7 .2 -.8 .3 -.8 .2 -.7 .3 -.8 .3 -.7 .3 -.7 .4 -.8 .4 -.6 .4 -.7 .5 -.7 .4 -.6" fill="none" stroke="#000" stroke-width="1.7" stroke-linejoin="round" stroke-linecap="butt"/>
<path d="M463.2,169.5l-0.8 .1 -.8 .3 -.7 .1 -.8 .1 -.8 .1 -.8 0 -.8 0 -.8 0 -.8 -.1 -.8 -.1 -.8 -.1 -.8 -.2 -.7 -.2 -.8 -.2 -.8 -.3 -.7 -.2 -.8 -.3 -.7 -.4 -.7 -.3 -.7 -.4 -.7 -.4 -.7 -.4 -.7 -.4 -.7 -.4 -.6 -.5 -.6 -.5 -.7 -.5 -.6 -.5 -.6 -.5 -.6 -.6 -.5 -.5 -.6 -.6 -.5 -.6 -.5 -.6 -.6 -.6 -.4 -.6 -.5 -.7 -.5 -.6 -.4 -.7 -.5 -.7 -.4 -.7 -.4 -.7 -.3 -.7 -.4 -.7 -.3 -.7 -.4 -.7 -.3 -.8 -.3 -.7 -.2 -.8 -.3 -.7 -.2 -.8 -.2 -.8 -.2 -.7 -.2 -.8 -.2 -.8 -.1 -.8 -.1 -.8 -.1 -.8 -.1 -.8 -.1 -.8 0 -.8 -.1 -.7 0 -.8 0 -.8 .1 -.8 0 -.8 .1 -.8 .1 -.8 .1 -.8 .2 -.8 .1 -.8 .2 -.8 .2 -.7 .2 -.8 .2 -.8 .3 -.7 .3 -.8 .3 -.7 .3 -.8 .3 -.7 .4 -.7 .4 -.7 .4 -.7 .4 -.7 .4 -.6 .5 -.7 .5 -.6 .5 -.6 .5 -.6 .6 -.6 .6 -.6 .5 -.5 .7 -.5 .6 -.5 .6 -.5 .7 -.4 .7 -.4 .7 -.4 .7 -.3 .8 -.3 .7 -.3 .8 -.2 .8 -.2 .8 -.1 .8 0 .8 0 .7 .1 .8 .3 .7 .3 .7 .5 .5 .6 .2 .8 -.1 .7" fill="none" stroke="#ff0000" stroke-width="1.7" stroke-linejoin="round" stroke-linecap="butt"/>
<path d="M459.2,156.0l-0.7 -.1 -.8 0 -.8 0 -.8 0 -.8 -.1 -.7 -.1 -.8 -.2 -.8 -.2 -.7 -.3 -.8 -.2 -.7 -.3 -.8 -.4 -.7 -.3 -.7 -.4 -.6 -.4 -.7 -.4 -.7 -.5 -.6 -.5 -.6 -.5 -.6 -.5 -.6 -.5 -.6 -.5 -.6 -.6 -.5 -.6 -.6 -.6 -.5 -.6 -.5 -.6 -.4 -.6 -.5 -.7 -.4 -.7 -.5 -.6 -.4 -.7 -.4 -.7 -.3 -.7 -.4 -.7 -.3 -.7 -.3 -.8 -.3 -.7 -.3 -.8 -.2 -.7 -.3 -.8 -.2 -.7 -.2 -.8 -.1 -.8 -.2 -.8 -.1 -.8 -.2 -.7 0 -.8 -.1 -.8 -.1 -.8 0 -.8 0 -.8 0 -.8 0 -.8 0 -.8 .1 -.8 .1 -.8 .1 -.8 .1 -.7 .2 -.8 .1 -.8 .2 -.8 .2 -.7 .3 -.8 .2 -.8 .3 -.7 .3 -.7 .3 -.8 .3 -.7 .4 -.7 .4 -.7 .4 -.7 .4 -.7 .4 -.6 .5 -.7 .4 -.6 .5 -.7 .5 -.6 .6 -.6 .5 -.5 .6 -.6 .6 -.5 .6 -.5 .6 -.5 .7 -.5 .6 -.4 .7 -.4 .7 -.4 .7 -.4 .7 -.3 .8 -.3 .7 -.2 .8 -.2 .8 -.2 .8 -.1 .8 -.1 .8 0 .7 .1 .8 .1 .8 .2 .7 .3 .7 .4 .6 .5 .5 .6 .3 .7 0 .8 -.3 .8" fill="none" stroke="#0000ff" stroke-width="1.7" stroke-linejoin="round" stroke-linecap="butt"/>
<path d="M454.0,159.7l-0.7 -.2 -.8 0 -.8 0 -.8 -.1 -.8 -.1 -.8 -.1 -.7 -.2 -.8 -.2 -.8 -.2 -.7 -.3 -.8 -.3 -.7 -.3 -.7 -.3 -.7 -.4 -.7 -.4 -.7 -.4 -.7 -.4 -.7 -.5 -.6 -.5 -.6 -.5 -.6 -.5 -.6 -.5 -.6 -.6 -.6 -.5 -.5 -.6 -.6 -.6 -.5 -.6 -.5 -.6 -.5 -.6 -.5 -.7 -.4 -.6 -.5 -.7 -.4 -.7 -.4 -.7 -.4 -.7 -.3 -.7 -.4 -.7 -.3 -.7 -.3 -.8 -.3 -.7 -.3 -.8 -.3 -.7 -.2 -.8 -.2 -.8 -.2 -.7 -.2 -.8 -.2 -.8 -.1 -.8 -.2 -.8 -.1 -.8 -.1 -.8 0 -.7 -.1 -.8 0 -.8 0 -.8 0 -.8 0 -.8 .1 -.8 0 -.8 .1 -.8 .1 -.8 .1 -.8 .2 -.8 .1 -.8 .2 -.8 .2 -.7 .3 -.8 .2 -.8 .3 -.7 .2 -.8 .3 -.7 .4 -.7 .3 -.8 .4 -.7 .3 -.7 .4 -.7 .5 -.6 .4 -.7 .5 -.7 .4 -.6 .5 -.6 .6 -.6 .5 -.6 .5 -.6 .6 -.6 .6 -.5 .6 -.5 .7 -.5 .6 -.5 .7 -.4 .6 -.4 .7 -.4 .8 -.4 .7 -.3 .7 -.3 .8 -.3 .8 -.2 .7 -.1 .8 -.1 .8 -.1 .8 0 .8 .1 .8 .1 .8 .3 .7 .4 .6 .5 .4 .7 0 .8 -.3 .7" fill="none" stroke="#000" stroke-width="1.7" stroke-linejoin="round" stroke-linecap="butt"/>
<path d="M453.9,116.9l-0.1 .8 -.5 .7 -.6 .5 -.6 .4 -.8 .3 -.8 .1 -.8 .1 -.8 0 -.8 0 -.7 -.1 -.8 -.1 -.8 -.2 -.8 -.3 -.7 -.3 -.7 -.3 -.8 -.3 -.7 -.4 -.6 -.4 -.7 -.5 -.6 -.5 -.7 -.4 -.6 -.6 -.6 -.5 -.5 -.5 -.6 -.6 -.5 -.6 -.6 -.6 -.4 -.6 -.5 -.7 -.5 -.6 -.4 -.7 -.4 -.7 -.4 -.7 -.4 -.7 -.4 -.7 -.3 -.7 -.3 -.7 -.3 -.8 -.3 -.7 -.3 -.8 -.2 -.7 -.3 -.8 -.2 -.8 -.1 -.7 -.2 -.8 -.2 -.8 -.1 -.8 -.1 -.8 -.1 -.8 -.1 -.8 0 -.8 0 -.8 -.1 -.8 0 -.8 .1 -.8 0 -.7 .1 -.8 0 -.8 .1 -.8 .2 -.8 .1 -.8 .1 -.8 .2 -.8 .2 -.7 .2 -.8 .2 -.8 .3 -.7 .2 -.8 .3 -.7 .3 -.8 .3 -.7 .3 -.8 .3 -.7 .4 -.7 .4 -.7 .4 -.7 .4 -.7 .4 -.7 .4 -.6 .5 -.7 .4 -.6 .5 -.7 .5 -.6 .5 -.6 .6 -.6 .5 -.6 .5 -.6 .6 -.5 .6 -.6 .6 -.5 .6 -.5 .6 -.5 .7 -.5 .6 -.5 .7 -.4 .6 -.4 .7 -.4 .7 -.4 .7 -.4 .7 -.4 .8 -.3 .7 -.3 .7 -.3 .8 -.3 .8 -.2 .7 -.2 .8 -.2 .8 -.2 .8 -.1 .8 -.1 .8 -.1 .7 0 .8 0 .8 0 .8 .1 .8 .1 .8 .2 .8 .2 .6 .1" fill="none" stroke="#ff0000" stroke-width="1.7" stroke-linejoin="round" stroke-linecap="butt"/>
<path d="M459.6,106.1l-0.4 .7 -.5 .6 -.7 .4 -.7 .3 -.8 .2 -.8 .1 -.8 0 -.8 -.1 -.8 -.1 -.7 -.2 -.8 -.3 -.7 -.3 -.7 -.3 -.7 -.4 -.7 -.4 -.7 -.4 -.6 -.5 -.7 -.5 -.6 -.5 -.5 -.5 -.6 -.6 -.5 -.6 -.6 -.6 -.5 -.6 -.4 -.6 -.5 -.7 -.4 -.6 -.4 -.7 -.4 -.7 -.4 -.7 -.3 -.7 -.4 -.7 -.3 -.8 -.3 -.7 -.2 -.8 -.3 -.7 -.2 -.8 -.2 -.7 -.2 -.8 -.2 -.8 -.1 -.8 -.1 -.8 -.1 -.7 -.1 -.8 -.1 -.8 0 -.8 -.1 -.8 0 -.8 0 -.8 .1 -.8 0 -.8 .1 -.8 .1 -.8 .1 -.7 .1 -.8 .1 -.8 .2 -.8 .2 -.8 .2 -.7 .2 -.8 .2 -.8 .3 -.7 .2 -.8 .3 -.7 .3 -.7 .3 -.8 .3 -.7 .4 -.7 .4 -.7 .3 -.7 .4 -.7 .4 -.7 .5 -.6 .4 -.7 .5 -.7 .4 -.6 .5 -.6 .5 -.6 .5 -.6 .5 -.6 .6 -.6 .5 -.6 .6 -.6 .6 -.5 .6 -.5 .6 -.5 .6 -.5 .6 -.5 .7 -.5 .6 -.4 .7 -.5 .6 -.4 .7 -.4 .7 -.4 .7 -.4 .7 -.3 .8 -.3 .7 -.4 .7 -.2 .8 -.3 .7 -.3 .8 -.2 .8 -.2 .7 -.2 .8 -.2 .8 -.1 .8 -.1 .8 -.1 .7 -.1 .8 0 .8 0 .8 0 .8 .1 .8 .1 .8 .1 .8 .1 .7 .2 .8 .2 .8 .3 .7 .3 .7 .4 .7 .3" fill="none" stroke="#0000ff" stroke-width="1.7" stroke-linejoin="round" stroke-linecap="butt"/>
<path d="M452.2,106.2l-0.4 .6 -.6 .5 -.8 .4 -.8 .1 -.7 .1 -.8 0 -.8 -.1 -.8 -.1 -.8 -.2 -.8 -.3 -.7 -.3 -.7 -.3 -.7 -.4 -.7 -.4 -.7 -.5 -.6 -.4 -.7 -.5 -.6 -.6 -.6 -.5 -.5 -.6 -.6 -.5 -.5 -.7 -.5 -.6 -.5 -.6 -.5 -.7 -.4 -.6 -.4 -.7 -.4 -.7 -.4 -.7 -.4 -.7 -.3 -.7 -.4 -.8 -.3 -.7 -.2 -.7 -.3 -.8 -.3 -.8 -.2 -.7 -.2 -.8 -.2 -.8 -.2 -.7 -.1 -.8 -.1 -.8 -.2 -.8 -.1 -.8 0 -.8 -.1 -.8 0 -.8 0 -.8 -.1 -.8 .1 -.8 0 -.8 0 -.8 .1 -.8 .1 -.8 .1 -.8 .1 -.8 .2 -.8 .1 -.7 .2 -.8 .2 -.8 .2 -.8 .2 -.7 .2 -.8 .3 -.8 .2 -.7 .3 -.8 .3 -.7 .3 -.7 .4 -.8 .3 -.7 .4 -.7 .4 -.7 .4 -.7 .4 -.7 .4 -.7 .4 -.7 .5 -.6 .4 -.7 .5 -.6 .5 -.6 .5 -.7 .5 -.6 .6 -.6 .5 -.6 .6 -.5 .5 -.6 .6 -.5 .6 -.6 .6 -.5 .6 -.5 .6 -.5 .7 -.5 .6 -.5 .7 -.4 .7 -.5 .6 -.4 .7 -.4 .7 -.4 .7 -.3 .8 -.4 .7 -.3 .7 -.4 .8 -.3 .7 -.2 .8 -.3 .7 -.2 .8 -.3 .8 -.2 .7 -.1 .8 -.2 .8 -.1 .8 -.2 .8 0 .8 -.1 .8 0 .8 -.1 .8 .1 .8 0 .8 .1 .8 .1 .8 .1 .8 .1 .7 .2 .8 .3 .8 .2 .7 .3 .8 .1" fill="none" stroke="#000" stroke-width="1.7" stroke-linejoin="round" stroke-linecap="butt"/>
<path d="M462.5,61.3l-0.5 -.7 -.4 -.6 -.4 -.7 -.3 -.8 -.3 -.7 -.3 -.8 -.2 -.7 -.2 -.8 -.2 -.8 -.1 -.8 -.1 -.8 -.1 -.8 0 -.8 0 -.7 0 -.8 0 -.8 0 -.8 .1 -.8 .1 -.8 .2 -.8 .1 -.8 .2 -.8 .2 -.8 .2 -.7 .2 -.8 .3 -.7 .2 -.8 .3 -.7 .3 -.8 .3 -.7 .4 -.7 .4 -.7 .3 -.7 .4 -.7 .4 -.7 .5 -.7 .4 -.7 .5 -.6 .5 -.6 .4 -.7 .5 -.6 .6 -.6 .5 -.6 .5 -.6 .6 -.5 .6 -.6 .6 -.6 .6 -.5 .6 -.5 .6 -.5 .6 -.5 .7 -.5 .6 -.4 .7 -.5 .6 -.4 .7 -.4 .7 -.4 .7 -.4 .7 -.4 .7 -.3 .7 -.4 .8 -.3 .7 -.3 .8 -.3 .7 -.3 .8 -.2 .7 -.3 .8 -.2 .8 -.2 .7 -.2 .8 -.1 .8 -.2 .8 -.1 .8 -.1 .8 -.1 .8 -.1 .8 -.1 .8 0 .8 0 .8 0 .8 0 .8 .1 .8 0 .7 .1 .8 .1 .8 .1 .8 .2 .8 .1 .8 .2 .7 .2 .8 .3 .8 .2 .7 .3 .7 .3 .8 .3 .7 .4 .7 .4 .7 .3 .7 .5 .6 .4 .7 .5 .6 .5 .6 .5 .6 .5 .6 .6 .5 .6 .5 .6 .5 .6 .5 .7 .4 .7 .3 .7 .3 .7 .3 .8 .1 .8 .1 .8 0 .8 -.2 .7 -.4 .7 -.6 .5 -.8 .1" fill="none" stroke="#ff0000" stroke-width="1.7" stroke-linejoin="round" stroke-linecap="butt"/>
<path d="M476.9,52.4l-0.2 -.7 -.3 -.8 -.2 -.7 -.2 -.8 -.1 -.8 -.1 -.8 -.1 -.8 0 -.8 0 -.8 .1 -.8 0 -.8 .1 -.8 .2 -.8 .1 -.7 .2 -.8 .2 -.8 .2 -.8 .3 -.7 .2 -.8 .3 -.7 .4 -.7 .3 -.8 .4 -.7 .3 -.7 .4 -.7 .5 -.6 .4 -.7 .4 -.7 .5 -.6 .5 -.7 .5 -.6 .5 -.6 .6 -.6 .5 -.6 .6 -.5 .5 -.6 .6 -.5 .6 -.5 .7 -.6 .6 -.5 .6 -.4 .7 -.5 .6 -.4 .7 -.5 .7 -.4 .7 -.4 .7 -.4 .7 -.4 .7 -.3 .7 -.3 .8 -.4 .7 -.3 .7 -.2 .8 -.3 .8 -.3 .7 -.2 .8 -.2 .8 -.2 .7 -.2 .8 -.1 .8 -.2 .8 -.1 .8 -.1 .8 -.1 .8 0 .8 -.1 .8 0 .8 0 .8 0 .8 .1 .8 0 .8 .1 .8 .1 .8 .1 .7 .1 .8 .2 .8 .2 .8 .2 .8 .2 .7 .2 .8 .3 .7 .3 .8 .3 .7 .3 .7 .4 .7 .3 .7 .4 .7 .4 .7 .5 .6 .4 .7 .5 .6 .5 .6 .5 .6 .6 .5 .5 .6 .6 .5 .6 .5 .6 .5 .7 .4 .7 .4 .7 .3 .7 .4 .7 .2 .8 .3 .7 .1 .8 .1 .8 .1 .8 -.1 .8 -.2 .8 -.3 .7 -.4 .7 -.6 .5 -.8 .2 -.8 -.1" fill="none" stroke="#0000ff" stroke-width="1.7" stroke-linejoin="round" stroke-linecap="butt"/>
<path d="M471.8,47.3l0.1 -.7 -.2 -.8 -.1 -.8 -.1 -.8 -.1 -.8 -.1 -.7 0 -.8 0 -.8 0 -.8 0 -.8 .1 -.8 .1 -.8 .2 -.8 .1 -.8 .2 -.7 .2 -.8 .3 -.8 .2 -.7 .3 -.8 .3 -.7 .3 -.7 .3 -.7 .4 -.8 .3 -.7 .4 -.7 .4 -.6 .5 -.7 .4 -.7 .5 -.6 .4 -.7 .5 -.6 .5 -.6 .5 -.6 .6 -.6 .5 -.6 .6 -.5 .5 -.6 .6 -.5 .6 -.6 .6 -.5 .6 -.5 .7 -.5 .6 -.4 .7 -.5 .6 -.4 .7 -.4 .7 -.5 .7 -.4 .7 -.3 .7 -.4 .7 -.4 .7 -.3 .7 -.3 .8 -.3 .7 -.3 .8 -.3 .7 -.2 .8 -.3 .7 -.2 .8 -.2 .8 -.2 .7 -.1 .8 -.2 .8 -.1 .8 -.1 .8 -.1 .8 -.1 .8 -.1 .8 0 .8 0 .8 0 .7 0 .8 0 .8 .1 .8 0 .8 .1 .8 .1 .8 .1 .8 .2 .7 .1 .8 .2 .8 .2 .7 .3 .8 .2 .8 .3 .7 .2 .7 .3 .8 .4 .7 .3 .7 .4 .7 .4 .7 .4 .6 .4 .7 .4 .6 .5 .7 .5 .6 .5 .5 .6 .6 .5 .6 .6 .5 .6 .5 .6 .5 .6 .4 .7 .4 .7 .4 .7 .3 .7 .3 .7 .3 .8 .2 .8 .1 .7 0 .8 0 .8 -.2 .8 -.4 .7 -.5 .6 -.7 .3 -.8 -.2" fill="none" stroke="#000" stroke-width="1.7" stroke-linejoin="round" stroke-linecap="butt"/>
<path d="M514.4,35.2l-0.8 0 -.7 -.3 -.6 -.5 -.5 -.6 -.4 -.7 -.3 -.7 -.3 -.8 -.1 -.8 -.1 -.8 -.1 -.7 0 -.8 0 -.8 .1 -.8 .1 -.8 .2 -.8 .1 -.8 .3 -.7 .2 -.8 .3 -.7 .3 -.8 .3 -.7 .4 -.7 .3 -.7 .4 -.7 .5 -.7 .4 -.6 .5 -.7 .4 -.6 .5 -.6 .5 -.6 .6 -.6 .5 -.6 .6 -.5 .6 -.6 .5 -.5 .6 -.5 .7 -.5 .6 -.5 .6 -.5 .7 -.5 .6 -.4 .7 -.4 .7 -.4 .7 -.4 .7 -.4 .7 -.3 .7 -.4 .7 -.3 .8 -.3 .7 -.3 .8 -.3 .7 -.2 .8 -.3 .7 -.2 .8 -.2 .8 -.2 .7 -.2 .8 -.2 .8 -.1 .8 -.1 .8 -.1 .8 -.1 .7 -.1 .8 -.1 .8 0 .8 0 .8 0 .8 0 .8 0 .8 0 .8 .1 .8 .1 .8 .1 .8 .1 .7 .1 .8 .1 .8 .2 .8 .2 .7 .2 .8 .2 .8 .2 .7 .2 .8 .3 .7 .3 .8 .3 .7 .3 .7 .3 .7 .3 .7 .4 .7 .4 .7 .3 .7 .4 .7 .5 .7 .4 .6 .4 .7 .5 .6 .5 .6 .5 .6 .5 .6 .5 .6 .5 .6 .6 .5 .6 .6 .5 .5 .6 .5 .6 .5 .7 .5 .6 .4 .7 .5 .6 .4 .7 .4 .7 .4 .7 .3 .7 .3 .7 .3 .7 .3 .8 .3 .7 .2 .8 .2 .8 .1 .8 .1 .7 .1 .8 0 .8 0 .8 .1 .7" fill="none" stroke="#ff0000" stroke-width="1.7" stroke-linejoin="round" stroke-linecap="butt"/>
<path d="M529.6,38.0l-0.8 -.2 -.7 -.4 -.5 -.6 -.5 -.6 -.3 -.7 -.2 -.8 -.2 -.8 -.1 -.8 0 -.8 0 -.8 0 -.8 .2 -.8 .1 -.8 .2 -.7 .3 -.8 .2 -.8 .3 -.7 .4 -.7 .3 -.7 .4 -.7 .4 -.7 .4 -.7 .5 -.7 .5 -.6 .5 -.6 .5 -.6 .5 -.6 .6 -.6 .6 -.6 .5 -.5 .6 -.5 .7 -.5 .6 -.5 .6 -.5 .7 -.5 .7 -.4 .6 -.4 .7 -.4 .7 -.4 .7 -.4 .7 -.4 .8 -.3 .7 -.3 .7 -.3 .8 -.3 .8 -.3 .7 -.2 .8 -.2 .7 -.3 .8 -.1 .8 -.2 .8 -.2 .8 -.1 .8 -.2 .8 -.1 .8 -.1 .7 0 .8 -.1 .8 0 .8 -.1 .8 0 .8 .1 .8 0 .8 0 .8 .1 .8 .1 .8 .1 .8 .1 .8 .1 .8 .2 .8 .1 .8 .2 .7 .2 .8 .2 .8 .2 .7 .3 .8 .2 .7 .3 .8 .3 .7 .3 .8 .4 .7 .3 .7 .3 .7 .4 .7 .4 .7 .4 .7 .4 .7 .5 .6 .4 .7 .5 .6 .4 .6 .5 .7 .5 .6 .5 .6 .6 .6 .5 .5 .6 .6 .6 .5 .5 .6 .6 .5 .7 .5 .6 .5 .6 .4 .7 .5 .6 .4 .7 .4 .7 .4 .7 .4 .7 .4 .7 .3 .7 .3 .7 .3 .8 .3 .7 .3 .8 .2 .8 .2 .7 .2 .8 .1 .8 .1 .8 .1 .8 .1 .8 0 .8 0 .8 0 .8 -.1 .8 -.2 .8 -.2 .7 -.1 .8" fill="none" stroke="#0000ff" stroke-width="1.7" stroke-linejoin="round" stroke-linecap="butt"/>
<path d="M528.2,31.0l-0.8 -.3 -.6 -.5 -.5 -.6 -.3 -.8 -.2 -.7 -.2 -.8 -.1 -.8 0 -.8 0 -.8 .1 -.8 .1 -.8 .1 -.8 .2 -.7 .3 -.8 .2 -.7 .3 -.8 .4 -.7 .3 -.7 .4 -.7 .4 -.7 .4 -.7 .5 -.7 .4 -.6 .5 -.6 .5 -.7 .5 -.6 .6 -.6 .5 -.5 .6 -.6 .6 -.5 .6 -.5 .6 -.6 .6 -.5 .7 -.4 .6 -.5 .7 -.4 .7 -.5 .7 -.4 .6 -.4 .7 -.4 .8 -.3 .7 -.4 .7 -.3 .7 -.3 .8 -.3 .7 -.3 .8 -.3 .7 -.2 .8 -.2 .8 -.3 .7 -.2 .8 -.2 .8 -.1 .8 -.2 .8 -.1 .8 -.1 .7 -.1 .8 -.1 .8 -.1 .8 -.1 .8 0 .8 0 .8 0 .8 0 .8 0 .8 0 .8 .1 .8 .1 .8 0 .8 .1 .8 .2 .8 .1 .8 .1 .7 .2 .8 .2 .8 .2 .8 .2 .7 .2 .8 .2 .7 .3 .8 .3 .7 .2 .8 .3 .7 .3 .8 .4 .7 .3 .7 .4 .7 .3 .7 .4 .7 .4 .7 .4 .7 .4 .6 .5 .7 .4 .6 .5 .7 .5 .6 .5 .6 .5 .6 .5 .6 .5 .6 .6 .6 .5 .6 .6 .5 .6 .5 .5 .6 .7 .5 .6 .5 .6 .5 .6 .4 .7 .5 .6 .4 .7 .4 .7 .4 .7 .4 .7 .4 .7 .3 .7 .4 .7 .3 .7 .3 .8 .3 .7 .2 .8 .2 .8 .3 .7 .1 .8 .2 .8 .1 .8 .1 .8 .1 .8 .1 .8 0 .8 0 .8 0 .8 0 .7 -.1 .8 .2 .8" fill="none" stroke="#000" stroke-width="1.7" stroke-linejoin="round" stroke-linecap="butt"/>
<path d="M575.1,30.4l0.6 -.5 .5 -.6 .6 -.6 .6 -.5 .6 -.5 .7 -.4 .7 -.4 .7 -.4 .7 -.4 .7 -.3 .7 -.4 .8 -.3 .7 -.2 .8 -.3 .7 -.2 .8 -.2 .8 -.2 .8 -.1 .8 -.1 .8 -.1 .8 -.1 .7 -.1 .8 0 .8 0 .8 0 .8 0 .8 0 .8 .1 .8 0 .8 .1 .8 .2 .8 .1 .8 .1 .8 .2 .7 .2 .8 .2 .8 .2 .7 .3 .8 .2 .7 .3 .8 .3 .7 .3 .8 .3 .7 .3 .7 .4 .7 .4 .7 .3 .7 .4 .7 .4 .7 .5 .6 .4 .7 .5 .6 .4 .7 .5 .6 .5 .6 .5 .6 .5 .6 .5 .6 .6 .6 .5 .5 .6 .6 .6 .5 .6 .6 .6 .5 .6 .5 .6 .5 .6 .4 .7 .5 .6 .4 .7 .5 .7 .4 .7 .4 .6 .4 .7 .4 .7 .3 .8 .4 .7 .3 .7 .3 .7 .3 .8 .3 .7 .2 .8 .3 .7 .2 .8 .2 .8 .2 .8 .2 .7 .1 .8 .2 .8 .1 .8 .1 .8 0 .8 .1 .8 0 .8 .1 .8 -.1 .8 0 .8 0 .8 -.1 .8 -.1 .8 -.1 .7 -.1 .8 -.2 .8 -.2 .8 -.2 .8 -.2 .7 -.3 .8 -.3 .7 -.3 .8 -.4 .7 -.3 .7 -.4 .7 -.5 .6 -.4 .7 -.5 .6 -.5 .6 -.6 .6 -.6 .5 -.6 .5 -.7 .5 -.7 .3 -.7 .3 -.8 .2 -.8 -.1 -.7 -.3 -.4 -.7" fill="none" stroke="#ff0000" stroke-width="1.7" stroke-linejoin="round" stroke-linecap="butt"/>
<path d="M590.5,43.2l0.6 -.3 .6 -.5 .7 -.4 .7 -.4 .7 -.3 .8 -.3 .7 -.3 .8 -.3 .8 -.2 .7 -.1 .8 -.2 .8 -.1 .8 -.1 .8 -.1 .8 0 .8 0 .8 0 .8 0 .8 0 .8 .1 .8 .1 .8 .1 .7 .2 .8 .1 .8 .2 .8 .2 .8 .2 .7 .3 .8 .2 .7 .3 .8 .3 .7 .3 .7 .3 .7 .4 .8 .3 .7 .4 .7 .4 .6 .4 .7 .4 .7 .5 .6 .4 .7 .5 .6 .5 .6 .5 .7 .5 .6 .5 .5 .6 .6 .5 .6 .6 .5 .6 .6 .5 .5 .6 .5 .6 .5 .7 .5 .6 .5 .6 .4 .7 .5 .7 .4 .6 .4 .7 .4 .7 .4 .7 .4 .7 .4 .7 .3 .7 .3 .8 .3 .7 .3 .8 .3 .7 .3 .8 .2 .7 .2 .8 .2 .8 .2 .7 .2 .8 .1 .8 .2 .8 .1 .8 .1 .8 .1 .8 0 .8 .1 .8 0 .8 0 .8 0 .8 -.1 .8 0 .7 -.1 .8 -.1 .8 -.1 .8 -.2 .8 -.1 .8 -.2 .8 -.2 .7 -.2 .8 -.3 .8 -.3 .7 -.3 .8 -.3 .7 -.3 .7 -.4 .7 -.4 .7 -.4 .7 -.4 .7 -.5 .6 -.5 .6 -.5 .6 -.6 .6 -.5 .6 -.6 .5 -.7 .5 -.6 .5 -.7 .4 -.7 .4 -.7 .3 -.8 .2 -.8 .2 -.8 .1 -.8 -.1 -.7 -.2 -.7 -.4 -.4 -.7 -.1 -.8" fill="none" stroke="#0000ff" stroke-width="1.7" stroke-linejoin="round" stroke-linecap="butt"/>
<path d="M595.4,37.3l0.7 .1 .7 -.3 .7 -.3 .8 -.3 .7 -.3 .8 -.2 .8 -.2 .8 -.2 .7 -.1 .8 -.2 .8 -.1 .8 0 .8 -.1 .8 0 .8 0 .8 0 .8 0 .8 .1 .8 .1 .8 .1 .8 .1 .8 .1 .8 .2 .7 .2 .8 .2 .8 .2 .7 .2 .8 .3 .8 .3 .7 .3 .7 .3 .8 .3 .7 .3 .7 .4 .7 .4 .7 .3 .7 .4 .7 .5 .7 .4 .6 .4 .7 .5 .6 .5 .7 .5 .6 .5 .6 .5 .6 .5 .6 .5 .6 .6 .5 .6 .6 .5 .5 .6 .6 .6 .5 .6 .5 .6 .5 .7 .5 .6 .4 .7 .5 .6 .4 .7 .5 .7 .4 .6 .4 .7 .4 .7 .3 .7 .4 .8 .3 .7 .4 .7 .3 .7 .3 .8 .2 .7 .3 .8 .2 .8 .3 .7 .2 .8 .2 .8 .2 .7 .1 .8 .2 .8 .1 .8 .1 .8 .1 .8 .1 .8 0 .8 .1 .8 0 .8 0 .8 0 .8 0 .8 -.1 .8 -.1 .8 -.1 .8 -.1 .8 -.1 .7 -.2 .8 -.2 .8 -.2 .8 -.2 .8 -.2 .7 -.3 .8 -.3 .7 -.3 .8 -.3 .7 -.3 .7 -.4 .7 -.4 .7 -.4 .7 -.5 .6 -.5 .7 -.5 .6 -.5 .6 -.5 .6 -.6 .6 -.6 .5 -.6 .5 -.7 .4 -.7 .5 -.7 .3 -.7 .3 -.8 .3 -.7 .1 -.8 .1 -.8 -.1 -.7 -.4 -.5 -.6 0 -.8" fill="none" stroke="#000" stroke-width="1.7" stroke-linejoin="round" stroke-linecap="butt"/>
<path d="M617.6,76.9l-0.2 -.7 .3 -.8 .4 -.6 .6 -.6 .7 -.4 .6 -.4 .8 -.4 .7 -.3 .8 -.2 .7 -.2 .8 -.1 .8 -.1 .8 -.1 .8 0 .8 0 .8 0 .8 .1 .8 .1 .8 .1 .8 .2 .7 .1 .8 .2 .8 .3 .7 .2 .8 .3 .7 .3 .8 .3 .7 .3 .7 .4 .7 .3 .7 .4 .7 .4 .7 .5 .6 .4 .7 .4 .6 .5 .7 .5 .6 .5 .6 .5 .6 .6 .6 .5 .5 .6 .6 .5 .6 .6 .5 .6 .5 .6 .5 .6 .5 .6 .5 .7 .5 .6 .4 .7 .4 .7 .5 .6 .4 .7 .4 .7 .4 .7 .3 .7 .4 .7 .3 .8 .3 .7 .3 .7 .3 .8 .3 .7 .3 .8 .2 .7 .3 .8 .2 .7 .2 .8 .2 .8 .2 .8 .1 .7 .2 .8 .1 .8 .1 .8 .1 .8 .1 .8 0 .8 .1 .8 0 .8 0 .8 0 .8 0 .8 0 .8 -.1 .8 0 .8 -.1 .8 -.1 .7 -.1 .8 -.2 .8 -.1 .8 -.2 .8 -.2 .8 -.2 .7 -.2 .8 -.2 .8 -.2 .7 -.3 .8 -.3 .7 -.3 .8 -.3 .7 -.3 .7 -.4 .8 -.3 .7 -.4 .7 -.4 .7 -.4 .6 -.4 .7 -.5 .7 -.4 .6 -.5 .7 -.5 .6 -.5 .6 -.5 .6 -.6 .6 -.5 .6 -.6 .5 -.6 .6 -.6 .5 -.6 .5 -.6 .5 -.7 .4 -.7 .5 -.6 .4 -.7 .4 -.8 .3 -.7 .4 -.7 .3 -.8 .2 -.7 .2 -.8 .2 -.6 .3" fill="none" stroke="#ff0000" stroke-width="1.7" stroke-linejoin="round" stroke-linecap="butt"/>
<path d="M620.2,94.8l0 -.8 .3 -.7 .4 -.7 .6 -.5 .7 -.5 .7 -.4 .7 -.3 .8 -.2 .7 -.2 .8 -.2 .8 -.1 .8 0 .8 0 .8 0 .8 .1 .8 .1 .8 .1 .8 .2 .7 .1 .8 .3 .8 .2 .7 .3 .7 .3 .8 .3 .7 .3 .7 .4 .7 .3 .7 .4 .7 .5 .7 .4 .6 .4 .6 .5 .7 .5 .6 .5 .6 .5 .6 .6 .6 .5 .5 .6 .6 .5 .5 .6 .6 .6 .5 .6 .5 .7 .4 .6 .5 .6 .5 .7 .4 .7 .4 .6 .4 .7 .4 .7 .4 .7 .4 .7 .3 .7 .4 .7 .3 .8 .3 .7 .3 .8 .3 .7 .2 .8 .3 .7 .2 .8 .2 .7 .2 .8 .2 .8 .2 .8 .1 .7 .2 .8 .1 .8 .1 .8 .1 .8 0 .8 .1 .8 0 .8 .1 .8 0 .8 0 .8 0 .8 -.1 .8 0 .8 -.1 .7 -.1 .8 -.1 .8 -.1 .8 -.1 .8 -.1 .8 -.2 .8 -.2 .7 -.2 .8 -.2 .8 -.2 .8 -.2 .7 -.3 .8 -.3 .7 -.2 .8 -.3 .7 -.4 .7 -.3 .8 -.3 .7 -.4 .7 -.4 .7 -.3 .7 -.4 .7 -.5 .7 -.4 .6 -.4 .7 -.5 .6 -.5 .7 -.5 .6 -.5 .6 -.5 .6 -.5 .6 -.6 .6 -.5 .5 -.6 .6 -.6 .5 -.6 .6 -.6 .5 -.7 .4 -.6 .5 -.7 .5 -.6 .4 -.7 .4 -.7 .4 -.7 .4 -.7 .3 -.7 .4 -.8 .3 -.7 .3 -.8 .2 -.7 .2 -.8 .2 -.8 .2 -.8 .1 -.8 .1 -.8 .1 -.8 0 -.7 0" fill="none" stroke="#0000ff" stroke-width="1.7" stroke-linejoin="round" stroke-linecap="butt"/>
<path d="M626.6,93.1l0 -.8 .4 -.7 .6 -.6 .6 -.5 .7 -.3 .7 -.4 .8 -.2 .8 -.2 .8 -.1 .7 -.1 .8 -.1 .8 0 .8 0 .8 .1 .8 .1 .8 .1 .8 .2 .8 .1 .7 .2 .8 .3 .7 .2 .8 .3 .7 .3 .7 .3 .8 .4 .7 .3 .7 .4 .7 .4 .6 .4 .7 .5 .6 .4 .7 .5 .6 .5 .6 .5 .6 .5 .6 .5 .6 .6 .6 .5 .5 .6 .6 .6 .5 .6 .5 .6 .5 .6 .5 .6 .5 .6 .5 .7 .4 .6 .5 .7 .4 .7 .4 .7 .4 .6 .4 .7 .4 .7 .3 .8 .4 .7 .3 .7 .3 .7 .3 .8 .3 .7 .3 .7 .2 .8 .3 .8 .2 .7 .2 .8 .2 .7 .2 .8 .2 .8 .2 .8 .1 .8 .1 .7 .2 .8 .1 .8 .1 .8 0 .8 .1 .8 0 .8 .1 .8 0 .8 0 .8 0 .8 -.1 .8 0 .8 0 .8 -.1 .7 -.1 .8 -.1 .8 -.1 .8 -.1 .8 -.2 .8 -.1 .8 -.2 .7 -.2 .8 -.2 .8 -.2 .7 -.2 .8 -.3 .8 -.2 .7 -.3 .8 -.3 .7 -.3 .8 -.3 .7 -.3 .7 -.3 .7 -.4 .7 -.4 .8 -.3 .6 -.4 .7 -.4 .7 -.5 .7 -.4 .7 -.4 .6 -.5 .7 -.5 .6 -.4 .6 -.5 .7 -.6 .6 -.5 .6 -.5 .6 -.6 .5 -.5 .6 -.6 .5 -.6 .6 -.6 .5 -.6 .5 -.6 .5 -.7 .5 -.6 .5 -.7 .4 -.6 .4 -.7 .5 -.7 .4 -.7 .3 -.7 .4 -.7 .3 -.7 .4 -.8 .3 -.7 .3 -.8 .2 -.7 .3 -.8 .2 -.8 .2 -.7 .1 -.8 .2 -.8 .2 -.6 .5" fill="none" stroke="#000" stroke-width="1.7" stroke-linejoin="round" stroke-linecap="butt"/>
<path d="M636.7,139.8l0.7 .5 .6 .4 .7 .4 .6 .5 .6 .5 .6 .5 .6 .6 .6 .5 .5 .6 .5 .6 .5 .7 .5 .6 .4 .7 .4 .6 .4 .7 .4 .7 .4 .7 .3 .7 .4 .7 .3 .8 .3 .7 .2 .7 .3 .8 .2 .8 .2 .7 .2 .8 .2 .8 .2 .7 .1 .8 .1 .8 .1 .8 .1 .8 .1 .8 .1 .7 0 .8 0 .8 0 .8 0 .8 0 .8 -.1 .8 0 .8 -.1 .8 -.1 .8 -.1 .8 -.1 .7 -.2 .8 -.1 .8 -.2 .8 -.2 .7 -.2 .8 -.2 .8 -.2 .7 -.3 .8 -.2 .7" fill="none" stroke="#ff0000" stroke-width="1.7" stroke-linejoin="round" stroke-linecap="butt"/>
<path d="M628.6,160.2l0.5 .5 .6 .5 .6 .6 .5 .6 .5 .6 .5 .6 .4 .7 .4 .7 .4 .7 .4 .7 .3 .7 .3 .7 .3 .7 .3 .8 .2 .7 .3 .8 .2 .8 .1 .7 .2 .8 .1 .8 .1 .8 .1 .8 .1 .8 .1 .8 0 .8 0 .7 0 .8 0 .8 0 .8 -.1 .8 -.1 .8 0 .8 -.2 .8 -.1 .8 -.1 .7 -.2 .8 -.2 .8 -.2 .8 -.2 .7 -.2 .8 -.2 .7" fill="none" stroke="#0000ff" stroke-width="1.7" stroke-linejoin="round" stroke-linecap="butt"/>
<path d="M635.2,165.6l-0.1 .7 .3 .7 .4 .7 .4 .7 .4 .7 .4 .7 .3 .7 .3 .7 .3 .7 .3 .8 .3 .7 .2 .7 .3 .8 .2 .8 .1 .7 .2 .8 .1 .8 .2 .7 .1 .8 0 .8 .1 .8 .1 .8 0 .8 0 .7 0 .8 0 .8 -.1 .8 0 .8 -.1 .8 -.1 .7 -.1 .8 -.1 .8 -.2 .8 -.1 .7 -.2 .8" fill="none" stroke="#000" stroke-width="1.7" stroke-linejoin="round" stroke-linecap="butt"/>
</g>
<rect x="407.0" y="0.5" width="277.2" height="218.0" fill="none" stroke="#333" stroke-width="1"/>
<line x1="427.90" y1="0.50" x2="427.90" y2="3.30" stroke="#333" stroke-width="1" />
<line x1="427.90" y1="218.50" x2="427.90" y2="215.70" stroke="#333" stroke-width="1" />
<text x="427.90" y="233" text-anchor="middle" font-family="Liberation Mono" font-size="11.2" fill="#555">-0.2</text>
<line x1="480.65" y1="0.50" x2="480.65" y2="3.30" stroke="#333" stroke-width="1" />
<line x1="480.65" y1="218.50" x2="480.65" y2="215.70" stroke="#333" stroke-width="1" />
<text x="480.65" y="233" text-anchor="middle" font-family="Liberation Mono" font-size="11.2" fill="#555">-0.1</text>
<line x1="533.40" y1="0.50" x2="533.40" y2="3.30" stroke="#333" stroke-width="1" />
<line x1="533.40" y1="218.50" x2="533.40" y2="215.70" stroke="#333" stroke-width="1" />
<text x="533.40" y="233" text-anchor="middle" font-family="Liberation Mono" font-size="11.2" fill="#555">0</text>
<line x1="586.15" y1="0.50" x2="586.15" y2="3.30" stroke="#333" stroke-width="1" />
<line x1="586.15" y1="218.50" x2="586.15" y2="215.70" stroke="#333" stroke-width="1" />
<text x="586.15" y="233" text-anchor="middle" font-family="Liberation Mono" font-size="11.2" fill="#555">0.1</text>
<line x1="638.90" y1="0.50" x2="638.90" y2="3.30" stroke="#333" stroke-width="1" />
<line x1="638.90" y1="218.50" x2="638.90" y2="215.70" stroke="#333" stroke-width="1" />
<text x="638.90" y="233" text-anchor="middle" font-family="Liberation Mono" font-size="11.2" fill="#555">0.2</text>
<line x1="407.00" y1="200.03" x2="409.80" y2="200.03" stroke="#333" stroke-width="1" />
<line x1="684.20" y1="200.03" x2="681.40" y2="200.03" stroke="#333" stroke-width="1" />
<text x="403" y="204.53" text-anchor="end" font-family="Liberation Mono" font-size="11.2" fill="#555">0.85</text>
<line x1="407.00" y1="173.65" x2="409.80" y2="173.65" stroke="#333" stroke-width="1" />
<line x1="684.20" y1="173.65" x2="681.40" y2="173.65" stroke="#333" stroke-width="1" />
<text x="403" y="178.15" text-anchor="end" font-family="Liberation Mono" font-size="11.2" fill="#555">0.9</text>
<line x1="407.00" y1="147.28" x2="409.80" y2="147.28" stroke="#333" stroke-width="1" />
<line x1="684.20" y1="147.28" x2="681.40" y2="147.28" stroke="#333" stroke-width="1" />
<text x="403" y="151.78" text-anchor="end" font-family="Liberation Mono" font-size="11.2" fill="#555">0.95</text>
<line x1="407.00" y1="120.90" x2="409.80" y2="120.90" stroke="#333" stroke-width="1" />
<line x1="684.20" y1="120.90" x2="681.40" y2="120.90" stroke="#333" stroke-width="1" />
<text x="403" y="125.40" text-anchor="end" font-family="Liberation Mono" font-size="11.2" fill="#555">1</text>
<line x1="407.00" y1="94.52" x2="409.80" y2="94.52" stroke="#333" stroke-width="1" />
<line x1="684.20" y1="94.52" x2="681.40" y2="94.52" stroke="#333" stroke-width="1" />
<text x="403" y="99.02" text-anchor="end" font-family="Liberation Mono" font-size="11.2" fill="#555">1.05</text>
<line x1="407.00" y1="68.15" x2="409.80" y2="68.15" stroke="#333" stroke-width="1" />
<line x1="684.20" y1="68.15" x2="681.40" y2="68.15" stroke="#333" stroke-width="1" />
<text x="403" y="72.65" text-anchor="end" font-family="Liberation Mono" font-size="11.2" fill="#555">1.1</text>
<line x1="407.00" y1="41.78" x2="409.80" y2="41.78" stroke="#333" stroke-width="1" />
<line x1="684.20" y1="41.78" x2="681.40" y2="41.78" stroke="#333" stroke-width="1" />
<text x="403" y="46.28" text-anchor="end" font-family="Liberation Mono" font-size="11.2" fill="#555">1.15</text>
<line x1="407.00" y1="15.40" x2="409.80" y2="15.40" stroke="#333" stroke-width="1" />
<line x1="684.20" y1="15.40" x2="681.40" y2="15.40" stroke="#333" stroke-width="1" />
<text x="403" y="19.90" text-anchor="end" font-family="Liberation Mono" font-size="11.2" fill="#555">1.2</text>
<g transform="translate(535.6 245.9)"><text y="0" font-family="Liberation Serif" font-size="12.5" fill="#333"><tspan x="0">y</tspan><tspan x="6.63" y="1.8" font-size="15.5">/</tspan><tspan x="12.26" y="0">L</tspan></text><line x1="13.2" y1="-9.6" x2="17.9" y2="-9.6" stroke="#333" stroke-width="0.6"/></g>
<g transform="translate(369.0 118.3) rotate(-90)"><text y="0" font-family="Liberation Serif" font-size="12.5" fill="#333"><tspan x="0">z</tspan><tspan x="6.29" y="1.8" font-size="15.5">/</tspan><tspan x="11.63" y="0">L</tspan></text><line x1="12.5" y1="-9.6" x2="17.2" y2="-9.6" stroke="#333" stroke-width="0.6"/></g>
<text x="35.8" y="276.2" textLength="266.4" lengthAdjust="spacingAndGlyphs" font-family="Liberation Serif" font-size="14.5" fill="#111">(a) Initial configuration: dx=2bl, dz=0bl.</text>
<text x="452.5" y="276.2" textLength="173.2" lengthAdjust="spacingAndGlyphs" font-family="Liberation Serif" font-size="14.5" fill="#111">(b) Swimming trajectories.</text>
</svg></body></html>
